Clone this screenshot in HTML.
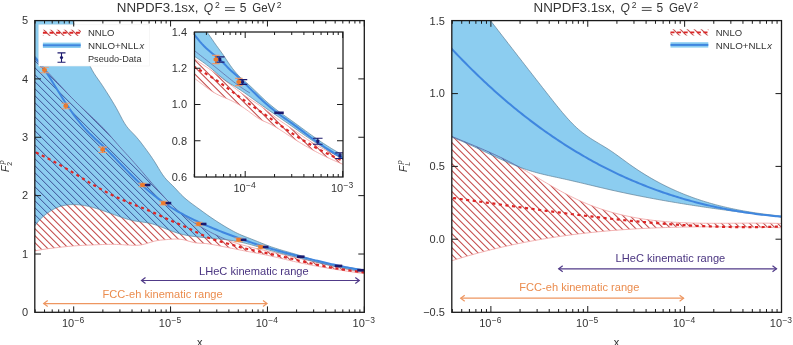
<!DOCTYPE html><html><head><meta charset="utf-8"><style>html,body{margin:0;padding:0;background:#fff;}svg{display:block;font-family:"Liberation Sans",sans-serif;will-change:transform;}</style></head><body>
<svg width="793" height="345" viewBox="0 0 793 345">
<defs>
<pattern id="hatchRed" patternUnits="userSpaceOnUse" width="7" height="7"><path d="M-1,-1 L8,8 M-8,-1 L1,8 M6,-1 L15,8" stroke="#c44c4c" stroke-width="1.15"/></pattern>
<pattern id="hatchNavy" patternUnits="userSpaceOnUse" width="7" height="7"><path d="M-1,-1 L8,8 M-8,-1 L1,8 M6,-1 L15,8" stroke="#3c5096" stroke-width="0.9"/></pattern>
<clipPath id="clipL"><rect x="35.0" y="20.5" width="329.3" height="291.9"/></clipPath>
<clipPath id="clipI"><rect x="194.5" y="32.0" width="148.5" height="145.0"/></clipPath>
<clipPath id="clipR"><rect x="451.9" y="20.8" width="329.6" height="291.2"/></clipPath>
</defs>
<rect width="793" height="345" fill="#fff"/>
<g clip-path="url(#clipL)">
<clipPath id="L_blue"><path d="M20,-30 L50,-30 L52.01,-26.51 L54.03,-22.79 L56.04,-18.84 L58.05,-14.69 L60.06,-10.35 L62.08,-5.82 L64.09,-1.13 L66.1,3.71 L68.11,8.7 L70.13,13.8 L72.14,19.02 L74.15,24.34 L76.16,29.75 L78.18,35.22 L80.19,40.76 L82.2,46.33 L84.21,51.84 L86.23,57.15 L88.24,62.09 L90.25,66.52 L92.26,70.34 L94.28,73.69 L96.29,76.72 L98.3,79.59 L100.31,82.45 L102.33,85.43 L104.34,88.5 L106.35,91.65 L108.36,94.86 L110.38,98.1 L112.39,101.36 L114.4,104.7 L116.42,108.2 L118.43,111.94 L120.44,115.82 L122.45,119.64 L124.47,123.15 L126.48,126.15 L128.49,128.68 L130.5,130.89 L132.52,132.94 L134.53,135 L136.54,137.21 L138.55,139.6 L140.57,142.12 L142.58,144.75 L144.59,147.44 L146.6,150.17 L148.62,152.93 L150.63,155.77 L152.64,158.71 L154.65,161.81 L156.67,165.08 L158.68,168.44 L160.69,171.75 L162.7,174.83 L164.72,177.55 L166.73,179.86 L168.74,181.91 L170.75,183.83 L172.77,185.77 L174.78,187.84 L176.79,190.01 L178.81,192.2 L180.82,194.31 L182.83,196.28 L184.84,198.11 L186.86,199.82 L188.87,201.43 L190.88,202.97 L192.89,204.46 L194.91,205.93 L196.92,207.4 L198.93,208.87 L200.94,210.34 L202.96,211.81 L204.97,213.26 L206.98,214.69 L208.99,216.11 L211.01,217.5 L213.02,218.87 L215.03,220.22 L217.04,221.53 L219.06,222.83 L221.07,224.09 L223.08,225.34 L225.09,226.56 L227.11,227.75 L229.12,228.92 L231.13,230.05 L233.14,231.14 L235.16,232.19 L237.17,233.19 L239.18,234.13 L241.19,235.02 L243.21,235.85 L245.22,236.65 L247.23,237.43 L249.25,238.21 L251.26,238.99 L253.27,239.79 L255.28,240.6 L257.3,241.42 L259.31,242.24 L261.32,243.05 L263.33,243.85 L265.35,244.64 L267.36,245.41 L269.37,246.16 L271.38,246.88 L273.4,247.57 L275.41,248.23 L277.42,248.87 L279.43,249.49 L281.45,250.09 L283.46,250.68 L285.47,251.26 L287.48,251.84 L289.5,252.41 L291.51,252.99 L293.52,253.57 L295.53,254.15 L297.55,254.75 L299.56,255.36 L301.57,255.99 L303.58,256.64 L305.6,257.3 L307.61,257.96 L309.62,258.62 L311.64,259.29 L313.65,259.94 L315.66,260.58 L317.67,261.2 L319.69,261.8 L321.7,262.38 L323.71,262.92 L325.72,263.43 L327.74,263.91 L329.75,264.35 L331.76,264.77 L333.77,265.16 L335.79,265.53 L337.8,265.88 L339.81,266.21 L341.82,266.52 L343.84,266.83 L345.85,267.12 L347.86,267.41 L349.87,267.7 L351.89,267.99 L353.9,268.27 L355.91,268.57 L357.92,268.87 L359.94,269.18 L361.95,269.51 L363.96,269.85 L365.97,270.21 L367.99,270.59 L370,271 L370,271 L370,273 L370,273 L367.99,272.66 L365.98,272.32 L363.97,271.97 L361.95,271.62 L359.94,271.27 L357.93,270.91 L355.92,270.55 L353.91,270.18 L351.9,269.81 L349.89,269.44 L347.87,269.05 L345.86,268.67 L343.85,268.27 L341.84,267.87 L339.83,267.47 L337.82,267.05 L335.8,266.63 L333.79,266.21 L331.78,265.77 L329.77,265.32 L327.76,264.87 L325.75,264.41 L323.74,263.94 L321.72,263.46 L319.71,262.97 L317.7,262.47 L315.69,261.97 L313.68,261.47 L311.67,260.96 L309.66,260.44 L307.64,259.93 L305.63,259.42 L303.62,258.91 L301.61,258.4 L299.6,257.9 L297.59,257.4 L295.57,256.9 L293.56,256.41 L291.55,255.92 L289.54,255.42 L287.53,254.93 L285.52,254.43 L283.51,253.93 L281.49,253.42 L279.48,252.9 L277.47,252.38 L275.46,251.84 L273.45,251.29 L271.44,250.74 L269.43,250.16 L267.41,249.58 L265.4,248.99 L263.39,248.39 L261.38,247.78 L259.37,247.18 L257.36,246.58 L255.34,245.99 L253.33,245.4 L251.32,244.83 L249.31,244.27 L247.3,243.74 L245.29,243.22 L243.28,242.73 L241.26,242.27 L239.25,241.84 L237.24,241.45 L235.23,241.08 L233.22,240.74 L231.21,240.43 L229.2,240.14 L227.18,239.87 L225.17,239.62 L223.16,239.39 L221.15,239.17 L219.14,238.96 L217.13,238.76 L215.11,238.57 L213.1,238.38 L211.09,238.2 L209.08,238.02 L207.07,237.83 L205.06,237.64 L203.05,237.45 L201.03,237.24 L199.02,237.03 L197.01,236.81 L195,236.58 L192.99,236.33 L190.98,236.05 L188.97,235.74 L186.95,235.39 L184.94,235 L182.93,234.56 L180.92,234.06 L178.91,233.5 L176.9,232.88 L174.89,232.21 L172.87,231.5 L170.86,230.76 L168.85,229.99 L166.84,229.21 L164.83,228.42 L162.82,227.62 L160.8,226.84 L158.79,226.07 L156.78,225.34 L154.77,224.66 L152.76,224.05 L150.75,223.51 L148.74,223.06 L146.72,222.69 L144.71,222.38 L142.7,222.11 L140.69,221.85 L138.68,221.58 L136.67,221.28 L134.66,220.94 L132.64,220.52 L130.63,220.05 L128.62,219.52 L126.61,218.94 L124.6,218.32 L122.59,217.67 L120.57,216.99 L118.56,216.28 L116.55,215.56 L114.54,214.83 L112.53,214.1 L110.52,213.37 L108.51,212.63 L106.49,211.91 L104.48,211.2 L102.47,210.5 L100.46,209.81 L98.45,209.15 L96.44,208.52 L94.43,207.92 L92.41,207.36 L90.4,206.83 L88.39,206.35 L86.38,205.92 L84.37,205.55 L82.36,205.23 L80.34,204.96 L78.33,204.77 L76.32,204.63 L74.31,204.57 L72.3,204.57 L70.29,204.66 L68.28,204.82 L66.26,205.07 L64.25,205.4 L62.24,205.84 L60.23,206.38 L58.22,207.06 L56.21,207.88 L54.2,208.86 L52.18,209.99 L50.17,211.25 L48.16,212.61 L46.15,214.07 L44.14,215.65 L42.13,217.41 L40.11,219.42 L38.1,221.69 L36.09,224.13 L34.08,226.66 L32.07,229.2 L30.06,231.67 L28.05,233.98 L26.03,236.05 L24.02,237.8 L22.01,239.14 L20,240 L20,240Z"/></clipPath>
<clipPath id="L_red"><path d="M20,48 L25,48 L27.02,50.23 L29.04,52.44 L31.05,54.63 L33.07,56.79 L35.09,58.94 L37.11,61.08 L39.12,63.2 L41.14,65.32 L43.16,67.43 L45.18,69.54 L47.19,71.66 L49.21,73.77 L51.23,75.89 L53.25,78.03 L55.26,80.17 L57.28,82.33 L59.3,84.51 L61.32,86.7 L63.33,88.89 L65.35,91.07 L67.37,93.23 L69.39,95.36 L71.4,97.45 L73.42,99.49 L75.44,101.49 L77.46,103.46 L79.47,105.4 L81.49,107.32 L83.51,109.23 L85.53,111.12 L87.54,113 L89.56,114.89 L91.58,116.77 L93.6,118.67 L95.61,120.58 L97.63,122.52 L99.65,124.49 L101.67,126.51 L103.68,128.6 L105.7,130.76 L107.72,133.01 L109.74,135.31 L111.75,137.64 L113.77,139.98 L115.79,142.3 L117.81,144.59 L119.82,146.84 L121.84,149.07 L123.86,151.27 L125.88,153.47 L127.89,155.68 L129.91,157.9 L131.93,160.15 L133.95,162.42 L135.96,164.71 L137.98,167.02 L140,169.34 L142.02,171.67 L144.04,174.01 L146.05,176.36 L148.07,178.7 L150.09,181.04 L152.11,183.38 L154.12,185.71 L156.14,188.02 L158.16,190.32 L160.18,192.59 L162.19,194.84 L164.21,197.05 L166.23,199.22 L168.25,201.34 L170.26,203.41 L172.28,205.41 L174.3,207.35 L176.32,209.2 L178.33,210.98 L180.35,212.69 L182.37,214.33 L184.39,215.91 L186.4,217.43 L188.42,218.89 L190.44,220.3 L192.46,221.67 L194.47,222.99 L196.49,224.27 L198.51,225.51 L200.53,226.72 L202.54,227.89 L204.56,229.03 L206.58,230.14 L208.6,231.22 L210.61,232.28 L212.63,233.32 L214.65,234.34 L216.67,235.34 L218.68,236.31 L220.7,237.25 L222.72,238.16 L224.74,239.04 L226.75,239.88 L228.77,240.67 L230.79,241.42 L232.81,242.13 L234.82,242.79 L236.84,243.42 L238.86,244.02 L240.88,244.59 L242.89,245.14 L244.91,245.67 L246.93,246.2 L248.95,246.72 L250.96,247.23 L252.98,247.73 L255,248.23 L257.02,248.72 L259.04,249.2 L261.05,249.68 L263.07,250.15 L265.09,250.61 L267.11,251.07 L269.12,251.52 L271.14,251.97 L273.16,252.42 L275.18,252.87 L277.19,253.32 L279.21,253.77 L281.23,254.22 L283.25,254.67 L285.26,255.13 L287.28,255.59 L289.3,256.05 L291.32,256.52 L293.33,256.99 L295.35,257.46 L297.37,257.94 L299.39,258.42 L301.4,258.9 L303.42,259.38 L305.44,259.85 L307.46,260.33 L309.47,260.81 L311.49,261.28 L313.51,261.75 L315.53,262.22 L317.54,262.68 L319.56,263.15 L321.58,263.61 L323.6,264.07 L325.61,264.53 L327.63,264.99 L329.65,265.45 L331.67,265.91 L333.68,266.37 L335.7,266.84 L337.72,267.3 L339.74,267.76 L341.75,268.22 L343.77,268.68 L345.79,269.14 L347.81,269.59 L349.82,270.04 L351.84,270.48 L353.86,270.91 L355.88,271.34 L357.89,271.75 L359.91,272.16 L361.93,272.55 L363.95,272.94 L365.96,273.3 L367.98,273.66 L370,274 L370,274 L370,274.5 L370,274.5 L367.99,274.21 L365.98,273.92 L363.97,273.64 L361.95,273.35 L359.94,273.06 L357.93,272.77 L355.92,272.48 L353.91,272.18 L351.9,271.89 L349.89,271.59 L347.87,271.3 L345.86,271 L343.85,270.69 L341.84,270.38 L339.83,270.07 L337.82,269.76 L335.8,269.44 L333.79,269.12 L331.78,268.79 L329.77,268.46 L327.76,268.13 L325.75,267.78 L323.74,267.44 L321.72,267.08 L319.71,266.72 L317.7,266.35 L315.69,265.98 L313.68,265.6 L311.67,265.21 L309.66,264.82 L307.64,264.41 L305.63,264 L303.62,263.58 L301.61,263.15 L299.6,262.71 L297.59,262.26 L295.57,261.81 L293.56,261.35 L291.55,260.88 L289.54,260.41 L287.53,259.93 L285.52,259.46 L283.51,258.98 L281.49,258.5 L279.48,258.03 L277.47,257.56 L275.46,257.1 L273.45,256.64 L271.44,256.18 L269.43,255.74 L267.41,255.31 L265.4,254.88 L263.39,254.47 L261.38,254.07 L259.37,253.68 L257.36,253.3 L255.34,252.92 L253.33,252.54 L251.32,252.16 L249.31,251.79 L247.3,251.41 L245.29,251.03 L243.28,250.64 L241.26,250.24 L239.25,249.84 L237.24,249.44 L235.23,249.03 L233.22,248.63 L231.21,248.22 L229.2,247.82 L227.18,247.42 L225.17,247.02 L223.16,246.62 L221.15,246.23 L219.14,245.83 L217.13,245.43 L215.11,245.03 L213.1,244.64 L211.09,244.29 L209.08,243.97 L207.07,243.7 L205.06,243.5 L203.05,243.37 L201.03,243.27 L199.02,243.16 L197.01,242.99 L195,242.72 L192.99,242.31 L190.98,241.79 L188.97,241.22 L186.95,240.63 L184.94,240.09 L182.93,239.64 L180.92,239.32 L178.91,239.13 L176.9,239.05 L174.89,239.05 L172.87,239.13 L170.86,239.25 L168.85,239.4 L166.84,239.57 L164.83,239.74 L162.82,239.91 L160.8,240.11 L158.79,240.36 L156.78,240.68 L154.77,241.09 L152.76,241.61 L150.75,242.21 L148.74,242.86 L146.72,243.5 L144.71,244.1 L142.7,244.6 L140.69,244.96 L138.68,245.2 L136.67,245.32 L134.66,245.35 L132.64,245.32 L130.63,245.23 L128.62,245.12 L126.61,245 L124.6,244.86 L122.59,244.73 L120.57,244.61 L118.56,244.5 L116.55,244.42 L114.54,244.36 L112.53,244.33 L110.52,244.33 L108.51,244.36 L106.49,244.4 L104.48,244.46 L102.47,244.53 L100.46,244.61 L98.45,244.69 L96.44,244.78 L94.43,244.86 L92.41,244.94 L90.4,245.03 L88.39,245.11 L86.38,245.2 L84.37,245.29 L82.36,245.39 L80.34,245.5 L78.33,245.62 L76.32,245.75 L74.31,245.89 L72.3,246.05 L70.29,246.22 L68.28,246.4 L66.26,246.6 L64.25,246.8 L62.24,247.01 L60.23,247.23 L58.22,247.46 L56.21,247.69 L54.2,247.93 L52.18,248.18 L50.17,248.43 L48.16,248.7 L46.15,248.98 L44.14,249.28 L42.13,249.59 L40.11,249.93 L38.1,250.29 L36.09,250.68 L34.08,251.09 L32.07,251.54 L30.06,252.02 L28.05,252.53 L26.03,253.09 L24.02,253.68 L22.01,254.32 L20,255 L20,255Z"/></clipPath>
<g clip-path="url(#L_red)"><path d="M-208.8,48 L17.7,274.5 M-201.8,48 L24.7,274.5 M-194.8,48 L31.7,274.5 M-187.8,48 L38.7,274.5 M-180.8,48 L45.7,274.5 M-173.8,48 L52.7,274.5 M-166.8,48 L59.7,274.5 M-159.8,48 L66.7,274.5 M-152.8,48 L73.7,274.5 M-145.8,48 L80.7,274.5 M-138.8,48 L87.7,274.5 M-131.8,48 L94.7,274.5 M-124.8,48 L101.7,274.5 M-117.8,48 L108.7,274.5 M-110.8,48 L115.7,274.5 M-103.8,48 L122.7,274.5 M-96.8,48 L129.7,274.5 M-89.8,48 L136.7,274.5 M-82.8,48 L143.7,274.5 M-75.8,48 L150.7,274.5 M-68.8,48 L157.7,274.5 M-61.8,48 L164.7,274.5 M-54.8,48 L171.7,274.5 M-47.8,48 L178.7,274.5 M-40.8,48 L185.7,274.5 M-33.8,48 L192.7,274.5 M-26.8,48 L199.7,274.5 M-19.8,48 L206.7,274.5 M-12.8,48 L213.7,274.5 M-5.8,48 L220.7,274.5 M1.2,48 L227.7,274.5 M8.2,48 L234.7,274.5 M15.2,48 L241.7,274.5 M22.2,48 L248.7,274.5 M29.2,48 L255.7,274.5 M36.2,48 L262.7,274.5 M43.2,48 L269.7,274.5 M50.2,48 L276.7,274.5 M57.2,48 L283.7,274.5 M64.2,48 L290.7,274.5 M71.2,48 L297.7,274.5 M78.2,48 L304.7,274.5 M85.2,48 L311.7,274.5 M92.2,48 L318.7,274.5 M99.2,48 L325.7,274.5 M106.2,48 L332.7,274.5 M113.2,48 L339.7,274.5 M120.2,48 L346.7,274.5 M127.2,48 L353.7,274.5 M134.2,48 L360.7,274.5 M141.2,48 L367.7,274.5 M148.2,48 L374.7,274.5 M155.2,48 L381.7,274.5 M162.2,48 L388.7,274.5 M169.2,48 L395.7,274.5 M176.2,48 L402.7,274.5 M183.2,48 L409.7,274.5 M190.2,48 L416.7,274.5 M197.2,48 L423.7,274.5 M204.2,48 L430.7,274.5 M211.2,48 L437.7,274.5 M218.2,48 L444.7,274.5 M225.2,48 L451.7,274.5 M232.2,48 L458.7,274.5 M239.2,48 L465.7,274.5 M246.2,48 L472.7,274.5 M253.2,48 L479.7,274.5 M260.2,48 L486.7,274.5 M267.2,48 L493.7,274.5 M274.2,48 L500.7,274.5 M281.2,48 L507.7,274.5 M288.2,48 L514.7,274.5 M295.2,48 L521.7,274.5 M302.2,48 L528.7,274.5 M309.2,48 L535.7,274.5 M316.2,48 L542.7,274.5 M323.2,48 L549.7,274.5 M330.2,48 L556.7,274.5 M337.2,48 L563.7,274.5 M344.2,48 L570.7,274.5 M351.2,48 L577.7,274.5 M358.2,48 L584.7,274.5 M365.2,48 L591.7,274.5" stroke="#c44c4c" stroke-width="1.05" fill="none"/></g>
<path d="M25,48 L27.02,50.23 L29.04,52.44 L31.05,54.63 L33.07,56.79 L35.09,58.94 L37.11,61.08 L39.12,63.2 L41.14,65.32 L43.16,67.43 L45.18,69.54 L47.19,71.66 L49.21,73.77 L51.23,75.89 L53.25,78.03 L55.26,80.17 L57.28,82.33 L59.3,84.51 L61.32,86.7 L63.33,88.89 L65.35,91.07 L67.37,93.23 L69.39,95.36 L71.4,97.45 L73.42,99.49 L75.44,101.49 L77.46,103.46 L79.47,105.4 L81.49,107.32 L83.51,109.23 L85.53,111.12 L87.54,113 L89.56,114.89 L91.58,116.77 L93.6,118.67 L95.61,120.58 L97.63,122.52 L99.65,124.49 L101.67,126.51 L103.68,128.6 L105.7,130.76 L107.72,133.01 L109.74,135.31 L111.75,137.64 L113.77,139.98 L115.79,142.3 L117.81,144.59 L119.82,146.84 L121.84,149.07 L123.86,151.27 L125.88,153.47 L127.89,155.68 L129.91,157.9 L131.93,160.15 L133.95,162.42 L135.96,164.71 L137.98,167.02 L140,169.34 L142.02,171.67 L144.04,174.01 L146.05,176.36 L148.07,178.7 L150.09,181.04 L152.11,183.38 L154.12,185.71 L156.14,188.02 L158.16,190.32 L160.18,192.59 L162.19,194.84 L164.21,197.05 L166.23,199.22 L168.25,201.34 L170.26,203.41 L172.28,205.41 L174.3,207.35 L176.32,209.2 L178.33,210.98 L180.35,212.69 L182.37,214.33 L184.39,215.91 L186.4,217.43 L188.42,218.89 L190.44,220.3 L192.46,221.67 L194.47,222.99 L196.49,224.27 L198.51,225.51 L200.53,226.72 L202.54,227.89 L204.56,229.03 L206.58,230.14 L208.6,231.22 L210.61,232.28 L212.63,233.32 L214.65,234.34 L216.67,235.34 L218.68,236.31 L220.7,237.25 L222.72,238.16 L224.74,239.04 L226.75,239.88 L228.77,240.67 L230.79,241.42 L232.81,242.13 L234.82,242.79 L236.84,243.42 L238.86,244.02 L240.88,244.59 L242.89,245.14 L244.91,245.67 L246.93,246.2 L248.95,246.72 L250.96,247.23 L252.98,247.73 L255,248.23 L257.02,248.72 L259.04,249.2 L261.05,249.68 L263.07,250.15 L265.09,250.61 L267.11,251.07 L269.12,251.52 L271.14,251.97 L273.16,252.42 L275.18,252.87 L277.19,253.32 L279.21,253.77 L281.23,254.22 L283.25,254.67 L285.26,255.13 L287.28,255.59 L289.3,256.05 L291.32,256.52 L293.33,256.99 L295.35,257.46 L297.37,257.94 L299.39,258.42 L301.4,258.9 L303.42,259.38 L305.44,259.85 L307.46,260.33 L309.47,260.81 L311.49,261.28 L313.51,261.75 L315.53,262.22 L317.54,262.68 L319.56,263.15 L321.58,263.61 L323.6,264.07 L325.61,264.53 L327.63,264.99 L329.65,265.45 L331.67,265.91 L333.68,266.37 L335.7,266.84 L337.72,267.3 L339.74,267.76 L341.75,268.22 L343.77,268.68 L345.79,269.14 L347.81,269.59 L349.82,270.04 L351.84,270.48 L353.86,270.91 L355.88,271.34 L357.89,271.75 L359.91,272.16 L361.93,272.55 L363.95,272.94 L365.96,273.3 L367.98,273.66 L370,274" fill="none" stroke="#f0a0a0" stroke-width="0.8"/>
<path d="M20,255 L22.01,254.32 L24.02,253.68 L26.03,253.09 L28.05,252.53 L30.06,252.02 L32.07,251.54 L34.08,251.09 L36.09,250.68 L38.1,250.29 L40.11,249.93 L42.13,249.59 L44.14,249.28 L46.15,248.98 L48.16,248.7 L50.17,248.43 L52.18,248.18 L54.2,247.93 L56.21,247.69 L58.22,247.46 L60.23,247.23 L62.24,247.01 L64.25,246.8 L66.26,246.6 L68.28,246.4 L70.29,246.22 L72.3,246.05 L74.31,245.89 L76.32,245.75 L78.33,245.62 L80.34,245.5 L82.36,245.39 L84.37,245.29 L86.38,245.2 L88.39,245.11 L90.4,245.03 L92.41,244.94 L94.43,244.86 L96.44,244.78 L98.45,244.69 L100.46,244.61 L102.47,244.53 L104.48,244.46 L106.49,244.4 L108.51,244.36 L110.52,244.33 L112.53,244.33 L114.54,244.36 L116.55,244.42 L118.56,244.5 L120.57,244.61 L122.59,244.73 L124.6,244.86 L126.61,245 L128.62,245.12 L130.63,245.23 L132.64,245.32 L134.66,245.35 L136.67,245.32 L138.68,245.2 L140.69,244.96 L142.7,244.6 L144.71,244.1 L146.72,243.5 L148.74,242.86 L150.75,242.21 L152.76,241.61 L154.77,241.09 L156.78,240.68 L158.79,240.36 L160.8,240.11 L162.82,239.91 L164.83,239.74 L166.84,239.57 L168.85,239.4 L170.86,239.25 L172.87,239.13 L174.89,239.05 L176.9,239.05 L178.91,239.13 L180.92,239.32 L182.93,239.64 L184.94,240.09 L186.95,240.63 L188.97,241.22 L190.98,241.79 L192.99,242.31 L195,242.72 L197.01,242.99 L199.02,243.16 L201.03,243.27 L203.05,243.37 L205.06,243.5 L207.07,243.7 L209.08,243.97 L211.09,244.29 L213.1,244.64 L215.11,245.03 L217.13,245.43 L219.14,245.83 L221.15,246.23 L223.16,246.62 L225.17,247.02 L227.18,247.42 L229.2,247.82 L231.21,248.22 L233.22,248.63 L235.23,249.03 L237.24,249.44 L239.25,249.84 L241.26,250.24 L243.28,250.64 L245.29,251.03 L247.3,251.41 L249.31,251.79 L251.32,252.16 L253.33,252.54 L255.34,252.92 L257.36,253.3 L259.37,253.68 L261.38,254.07 L263.39,254.47 L265.4,254.88 L267.41,255.31 L269.43,255.74 L271.44,256.18 L273.45,256.64 L275.46,257.1 L277.47,257.56 L279.48,258.03 L281.49,258.5 L283.51,258.98 L285.52,259.46 L287.53,259.93 L289.54,260.41 L291.55,260.88 L293.56,261.35 L295.57,261.81 L297.59,262.26 L299.6,262.71 L301.61,263.15 L303.62,263.58 L305.63,264 L307.64,264.41 L309.66,264.82 L311.67,265.21 L313.68,265.6 L315.69,265.98 L317.7,266.35 L319.71,266.72 L321.72,267.08 L323.74,267.44 L325.75,267.78 L327.76,268.13 L329.77,268.46 L331.78,268.79 L333.79,269.12 L335.8,269.44 L337.82,269.76 L339.83,270.07 L341.84,270.38 L343.85,270.69 L345.86,271 L347.87,271.3 L349.89,271.59 L351.9,271.89 L353.91,272.18 L355.92,272.48 L357.93,272.77 L359.94,273.06 L361.95,273.35 L363.97,273.64 L365.98,273.92 L367.99,274.21 L370,274.5" fill="none" stroke="#f0a0a0" stroke-width="0.8"/>
<path d="M20,-30 L50,-30 L52.01,-26.51 L54.03,-22.79 L56.04,-18.84 L58.05,-14.69 L60.06,-10.35 L62.08,-5.82 L64.09,-1.13 L66.1,3.71 L68.11,8.7 L70.13,13.8 L72.14,19.02 L74.15,24.34 L76.16,29.75 L78.18,35.22 L80.19,40.76 L82.2,46.33 L84.21,51.84 L86.23,57.15 L88.24,62.09 L90.25,66.52 L92.26,70.34 L94.28,73.69 L96.29,76.72 L98.3,79.59 L100.31,82.45 L102.33,85.43 L104.34,88.5 L106.35,91.65 L108.36,94.86 L110.38,98.1 L112.39,101.36 L114.4,104.7 L116.42,108.2 L118.43,111.94 L120.44,115.82 L122.45,119.64 L124.47,123.15 L126.48,126.15 L128.49,128.68 L130.5,130.89 L132.52,132.94 L134.53,135 L136.54,137.21 L138.55,139.6 L140.57,142.12 L142.58,144.75 L144.59,147.44 L146.6,150.17 L148.62,152.93 L150.63,155.77 L152.64,158.71 L154.65,161.81 L156.67,165.08 L158.68,168.44 L160.69,171.75 L162.7,174.83 L164.72,177.55 L166.73,179.86 L168.74,181.91 L170.75,183.83 L172.77,185.77 L174.78,187.84 L176.79,190.01 L178.81,192.2 L180.82,194.31 L182.83,196.28 L184.84,198.11 L186.86,199.82 L188.87,201.43 L190.88,202.97 L192.89,204.46 L194.91,205.93 L196.92,207.4 L198.93,208.87 L200.94,210.34 L202.96,211.81 L204.97,213.26 L206.98,214.69 L208.99,216.11 L211.01,217.5 L213.02,218.87 L215.03,220.22 L217.04,221.53 L219.06,222.83 L221.07,224.09 L223.08,225.34 L225.09,226.56 L227.11,227.75 L229.12,228.92 L231.13,230.05 L233.14,231.14 L235.16,232.19 L237.17,233.19 L239.18,234.13 L241.19,235.02 L243.21,235.85 L245.22,236.65 L247.23,237.43 L249.25,238.21 L251.26,238.99 L253.27,239.79 L255.28,240.6 L257.3,241.42 L259.31,242.24 L261.32,243.05 L263.33,243.85 L265.35,244.64 L267.36,245.41 L269.37,246.16 L271.38,246.88 L273.4,247.57 L275.41,248.23 L277.42,248.87 L279.43,249.49 L281.45,250.09 L283.46,250.68 L285.47,251.26 L287.48,251.84 L289.5,252.41 L291.51,252.99 L293.52,253.57 L295.53,254.15 L297.55,254.75 L299.56,255.36 L301.57,255.99 L303.58,256.64 L305.6,257.3 L307.61,257.96 L309.62,258.62 L311.64,259.29 L313.65,259.94 L315.66,260.58 L317.67,261.2 L319.69,261.8 L321.7,262.38 L323.71,262.92 L325.72,263.43 L327.74,263.91 L329.75,264.35 L331.76,264.77 L333.77,265.16 L335.79,265.53 L337.8,265.88 L339.81,266.21 L341.82,266.52 L343.84,266.83 L345.85,267.12 L347.86,267.41 L349.87,267.7 L351.89,267.99 L353.9,268.27 L355.91,268.57 L357.92,268.87 L359.94,269.18 L361.95,269.51 L363.96,269.85 L365.97,270.21 L367.99,270.59 L370,271 L370,271 L370,273 L370,273 L367.99,272.66 L365.98,272.32 L363.97,271.97 L361.95,271.62 L359.94,271.27 L357.93,270.91 L355.92,270.55 L353.91,270.18 L351.9,269.81 L349.89,269.44 L347.87,269.05 L345.86,268.67 L343.85,268.27 L341.84,267.87 L339.83,267.47 L337.82,267.05 L335.8,266.63 L333.79,266.21 L331.78,265.77 L329.77,265.32 L327.76,264.87 L325.75,264.41 L323.74,263.94 L321.72,263.46 L319.71,262.97 L317.7,262.47 L315.69,261.97 L313.68,261.47 L311.67,260.96 L309.66,260.44 L307.64,259.93 L305.63,259.42 L303.62,258.91 L301.61,258.4 L299.6,257.9 L297.59,257.4 L295.57,256.9 L293.56,256.41 L291.55,255.92 L289.54,255.42 L287.53,254.93 L285.52,254.43 L283.51,253.93 L281.49,253.42 L279.48,252.9 L277.47,252.38 L275.46,251.84 L273.45,251.29 L271.44,250.74 L269.43,250.16 L267.41,249.58 L265.4,248.99 L263.39,248.39 L261.38,247.78 L259.37,247.18 L257.36,246.58 L255.34,245.99 L253.33,245.4 L251.32,244.83 L249.31,244.27 L247.3,243.74 L245.29,243.22 L243.28,242.73 L241.26,242.27 L239.25,241.84 L237.24,241.45 L235.23,241.08 L233.22,240.74 L231.21,240.43 L229.2,240.14 L227.18,239.87 L225.17,239.62 L223.16,239.39 L221.15,239.17 L219.14,238.96 L217.13,238.76 L215.11,238.57 L213.1,238.38 L211.09,238.2 L209.08,238.02 L207.07,237.83 L205.06,237.64 L203.05,237.45 L201.03,237.24 L199.02,237.03 L197.01,236.81 L195,236.58 L192.99,236.33 L190.98,236.05 L188.97,235.74 L186.95,235.39 L184.94,235 L182.93,234.56 L180.92,234.06 L178.91,233.5 L176.9,232.88 L174.89,232.21 L172.87,231.5 L170.86,230.76 L168.85,229.99 L166.84,229.21 L164.83,228.42 L162.82,227.62 L160.8,226.84 L158.79,226.07 L156.78,225.34 L154.77,224.66 L152.76,224.05 L150.75,223.51 L148.74,223.06 L146.72,222.69 L144.71,222.38 L142.7,222.11 L140.69,221.85 L138.68,221.58 L136.67,221.28 L134.66,220.94 L132.64,220.52 L130.63,220.05 L128.62,219.52 L126.61,218.94 L124.6,218.32 L122.59,217.67 L120.57,216.99 L118.56,216.28 L116.55,215.56 L114.54,214.83 L112.53,214.1 L110.52,213.37 L108.51,212.63 L106.49,211.91 L104.48,211.2 L102.47,210.5 L100.46,209.81 L98.45,209.15 L96.44,208.52 L94.43,207.92 L92.41,207.36 L90.4,206.83 L88.39,206.35 L86.38,205.92 L84.37,205.55 L82.36,205.23 L80.34,204.96 L78.33,204.77 L76.32,204.63 L74.31,204.57 L72.3,204.57 L70.29,204.66 L68.28,204.82 L66.26,205.07 L64.25,205.4 L62.24,205.84 L60.23,206.38 L58.22,207.06 L56.21,207.88 L54.2,208.86 L52.18,209.99 L50.17,211.25 L48.16,212.61 L46.15,214.07 L44.14,215.65 L42.13,217.41 L40.11,219.42 L38.1,221.69 L36.09,224.13 L34.08,226.66 L32.07,229.2 L30.06,231.67 L28.05,233.98 L26.03,236.05 L24.02,237.8 L22.01,239.14 L20,240 L20,240Z" fill="#8ccdf0"/>
<g clip-path="url(#L_blue)"><g clip-path="url(#L_red)"><path d="M-208.8,48 L17.7,274.5 M-201.8,48 L24.7,274.5 M-194.8,48 L31.7,274.5 M-187.8,48 L38.7,274.5 M-180.8,48 L45.7,274.5 M-173.8,48 L52.7,274.5 M-166.8,48 L59.7,274.5 M-159.8,48 L66.7,274.5 M-152.8,48 L73.7,274.5 M-145.8,48 L80.7,274.5 M-138.8,48 L87.7,274.5 M-131.8,48 L94.7,274.5 M-124.8,48 L101.7,274.5 M-117.8,48 L108.7,274.5 M-110.8,48 L115.7,274.5 M-103.8,48 L122.7,274.5 M-96.8,48 L129.7,274.5 M-89.8,48 L136.7,274.5 M-82.8,48 L143.7,274.5 M-75.8,48 L150.7,274.5 M-68.8,48 L157.7,274.5 M-61.8,48 L164.7,274.5 M-54.8,48 L171.7,274.5 M-47.8,48 L178.7,274.5 M-40.8,48 L185.7,274.5 M-33.8,48 L192.7,274.5 M-26.8,48 L199.7,274.5 M-19.8,48 L206.7,274.5 M-12.8,48 L213.7,274.5 M-5.8,48 L220.7,274.5 M1.2,48 L227.7,274.5 M8.2,48 L234.7,274.5 M15.2,48 L241.7,274.5 M22.2,48 L248.7,274.5 M29.2,48 L255.7,274.5 M36.2,48 L262.7,274.5 M43.2,48 L269.7,274.5 M50.2,48 L276.7,274.5 M57.2,48 L283.7,274.5 M64.2,48 L290.7,274.5 M71.2,48 L297.7,274.5 M78.2,48 L304.7,274.5 M85.2,48 L311.7,274.5 M92.2,48 L318.7,274.5 M99.2,48 L325.7,274.5 M106.2,48 L332.7,274.5 M113.2,48 L339.7,274.5 M120.2,48 L346.7,274.5 M127.2,48 L353.7,274.5 M134.2,48 L360.7,274.5 M141.2,48 L367.7,274.5 M148.2,48 L374.7,274.5 M155.2,48 L381.7,274.5 M162.2,48 L388.7,274.5 M169.2,48 L395.7,274.5 M176.2,48 L402.7,274.5 M183.2,48 L409.7,274.5 M190.2,48 L416.7,274.5 M197.2,48 L423.7,274.5 M204.2,48 L430.7,274.5 M211.2,48 L437.7,274.5 M218.2,48 L444.7,274.5 M225.2,48 L451.7,274.5 M232.2,48 L458.7,274.5 M239.2,48 L465.7,274.5 M246.2,48 L472.7,274.5 M253.2,48 L479.7,274.5 M260.2,48 L486.7,274.5 M267.2,48 L493.7,274.5 M274.2,48 L500.7,274.5 M281.2,48 L507.7,274.5 M288.2,48 L514.7,274.5 M295.2,48 L521.7,274.5 M302.2,48 L528.7,274.5 M309.2,48 L535.7,274.5 M316.2,48 L542.7,274.5 M323.2,48 L549.7,274.5 M330.2,48 L556.7,274.5 M337.2,48 L563.7,274.5 M344.2,48 L570.7,274.5 M351.2,48 L577.7,274.5 M358.2,48 L584.7,274.5 M365.2,48 L591.7,274.5" stroke="#3c5096" stroke-width="1.0" fill="none"/></g></g>
<path d="M50,-30 L52.01,-26.51 L54.03,-22.79 L56.04,-18.84 L58.05,-14.69 L60.06,-10.35 L62.08,-5.82 L64.09,-1.13 L66.1,3.71 L68.11,8.7 L70.13,13.8 L72.14,19.02 L74.15,24.34 L76.16,29.75 L78.18,35.22 L80.19,40.76 L82.2,46.33 L84.21,51.84 L86.23,57.15 L88.24,62.09 L90.25,66.52 L92.26,70.34 L94.28,73.69 L96.29,76.72 L98.3,79.59 L100.31,82.45 L102.33,85.43 L104.34,88.5 L106.35,91.65 L108.36,94.86 L110.38,98.1 L112.39,101.36 L114.4,104.7 L116.42,108.2 L118.43,111.94 L120.44,115.82 L122.45,119.64 L124.47,123.15 L126.48,126.15 L128.49,128.68 L130.5,130.89 L132.52,132.94 L134.53,135 L136.54,137.21 L138.55,139.6 L140.57,142.12 L142.58,144.75 L144.59,147.44 L146.6,150.17 L148.62,152.93 L150.63,155.77 L152.64,158.71 L154.65,161.81 L156.67,165.08 L158.68,168.44 L160.69,171.75 L162.7,174.83 L164.72,177.55 L166.73,179.86 L168.74,181.91 L170.75,183.83 L172.77,185.77 L174.78,187.84 L176.79,190.01 L178.81,192.2 L180.82,194.31 L182.83,196.28 L184.84,198.11 L186.86,199.82 L188.87,201.43 L190.88,202.97 L192.89,204.46 L194.91,205.93 L196.92,207.4 L198.93,208.87 L200.94,210.34 L202.96,211.81 L204.97,213.26 L206.98,214.69 L208.99,216.11 L211.01,217.5 L213.02,218.87 L215.03,220.22 L217.04,221.53 L219.06,222.83 L221.07,224.09 L223.08,225.34 L225.09,226.56 L227.11,227.75 L229.12,228.92 L231.13,230.05 L233.14,231.14 L235.16,232.19 L237.17,233.19 L239.18,234.13 L241.19,235.02 L243.21,235.85 L245.22,236.65 L247.23,237.43 L249.25,238.21 L251.26,238.99 L253.27,239.79 L255.28,240.6 L257.3,241.42 L259.31,242.24 L261.32,243.05 L263.33,243.85 L265.35,244.64 L267.36,245.41 L269.37,246.16 L271.38,246.88 L273.4,247.57 L275.41,248.23 L277.42,248.87 L279.43,249.49 L281.45,250.09 L283.46,250.68 L285.47,251.26 L287.48,251.84 L289.5,252.41 L291.51,252.99 L293.52,253.57 L295.53,254.15 L297.55,254.75 L299.56,255.36 L301.57,255.99 L303.58,256.64 L305.6,257.3 L307.61,257.96 L309.62,258.62 L311.64,259.29 L313.65,259.94 L315.66,260.58 L317.67,261.2 L319.69,261.8 L321.7,262.38 L323.71,262.92 L325.72,263.43 L327.74,263.91 L329.75,264.35 L331.76,264.77 L333.77,265.16 L335.79,265.53 L337.8,265.88 L339.81,266.21 L341.82,266.52 L343.84,266.83 L345.85,267.12 L347.86,267.41 L349.87,267.7 L351.89,267.99 L353.9,268.27 L355.91,268.57 L357.92,268.87 L359.94,269.18 L361.95,269.51 L363.96,269.85 L365.97,270.21 L367.99,270.59 L370,271" fill="none" stroke="#5f7f96" stroke-width="0.7"/>
<path d="M20,240 L22.01,239.14 L24.02,237.8 L26.03,236.05 L28.05,233.98 L30.06,231.67 L32.07,229.2 L34.08,226.66 L36.09,224.13 L38.1,221.69 L40.11,219.42 L42.13,217.41 L44.14,215.65 L46.15,214.07 L48.16,212.61 L50.17,211.25 L52.18,209.99 L54.2,208.86 L56.21,207.88 L58.22,207.06 L60.23,206.38 L62.24,205.84 L64.25,205.4 L66.26,205.07 L68.28,204.82 L70.29,204.66 L72.3,204.57 L74.31,204.57 L76.32,204.63 L78.33,204.77 L80.34,204.96 L82.36,205.23 L84.37,205.55 L86.38,205.92 L88.39,206.35 L90.4,206.83 L92.41,207.36 L94.43,207.92 L96.44,208.52 L98.45,209.15 L100.46,209.81 L102.47,210.5 L104.48,211.2 L106.49,211.91 L108.51,212.63 L110.52,213.37 L112.53,214.1 L114.54,214.83 L116.55,215.56 L118.56,216.28 L120.57,216.99 L122.59,217.67 L124.6,218.32 L126.61,218.94 L128.62,219.52 L130.63,220.05 L132.64,220.52 L134.66,220.94 L136.67,221.28 L138.68,221.58 L140.69,221.85 L142.7,222.11 L144.71,222.38 L146.72,222.69 L148.74,223.06 L150.75,223.51 L152.76,224.05 L154.77,224.66 L156.78,225.34 L158.79,226.07 L160.8,226.84 L162.82,227.62 L164.83,228.42 L166.84,229.21 L168.85,229.99 L170.86,230.76 L172.87,231.5 L174.89,232.21 L176.9,232.88 L178.91,233.5 L180.92,234.06 L182.93,234.56 L184.94,235 L186.95,235.39 L188.97,235.74 L190.98,236.05 L192.99,236.33 L195,236.58 L197.01,236.81 L199.02,237.03 L201.03,237.24 L203.05,237.45 L205.06,237.64 L207.07,237.83 L209.08,238.02 L211.09,238.2 L213.1,238.38 L215.11,238.57 L217.13,238.76 L219.14,238.96 L221.15,239.17 L223.16,239.39 L225.17,239.62 L227.18,239.87 L229.2,240.14 L231.21,240.43 L233.22,240.74 L235.23,241.08 L237.24,241.45 L239.25,241.84 L241.26,242.27 L243.28,242.73 L245.29,243.22 L247.3,243.74 L249.31,244.27 L251.32,244.83 L253.33,245.4 L255.34,245.99 L257.36,246.58 L259.37,247.18 L261.38,247.78 L263.39,248.39 L265.4,248.99 L267.41,249.58 L269.43,250.16 L271.44,250.74 L273.45,251.29 L275.46,251.84 L277.47,252.38 L279.48,252.9 L281.49,253.42 L283.51,253.93 L285.52,254.43 L287.53,254.93 L289.54,255.42 L291.55,255.92 L293.56,256.41 L295.57,256.9 L297.59,257.4 L299.6,257.9 L301.61,258.4 L303.62,258.91 L305.63,259.42 L307.64,259.93 L309.66,260.44 L311.67,260.96 L313.68,261.47 L315.69,261.97 L317.7,262.47 L319.71,262.97 L321.72,263.46 L323.74,263.94 L325.75,264.41 L327.76,264.87 L329.77,265.32 L331.78,265.77 L333.79,266.21 L335.8,266.63 L337.82,267.05 L339.83,267.47 L341.84,267.87 L343.85,268.27 L345.86,268.67 L347.87,269.05 L349.89,269.44 L351.9,269.81 L353.91,270.18 L355.92,270.55 L357.93,270.91 L359.94,271.27 L361.95,271.62 L363.97,271.97 L365.98,272.32 L367.99,272.66 L370,273" fill="none" stroke="#5f7f96" stroke-width="0.7"/>
<path d="M25,48 L27.02,50.23 L29.04,52.44 L31.05,54.63 L33.07,56.79 L35.09,58.94 L37.11,61.08 L39.12,63.2 L41.14,65.32 L43.16,67.43 L45.18,69.54 L47.19,71.66 L49.21,73.77 L51.23,75.89 L53.25,78.03 L55.26,80.17 L57.28,82.33 L59.3,84.51 L61.32,86.7 L63.33,88.89 L65.35,91.07 L67.37,93.23 L69.39,95.36 L71.4,97.45 L73.42,99.49 L75.44,101.49 L77.46,103.46 L79.47,105.4 L81.49,107.32 L83.51,109.23 L85.53,111.12 L87.54,113 L89.56,114.89 L91.58,116.77 L93.6,118.67 L95.61,120.58 L97.63,122.52 L99.65,124.49 L101.67,126.51 L103.68,128.6 L105.7,130.76 L107.72,133.01 L109.74,135.31 L111.75,137.64 L113.77,139.98 L115.79,142.3 L117.81,144.59 L119.82,146.84 L121.84,149.07 L123.86,151.27 L125.88,153.47 L127.89,155.68 L129.91,157.9 L131.93,160.15 L133.95,162.42 L135.96,164.71 L137.98,167.02 L140,169.34 L142.02,171.67 L144.04,174.01 L146.05,176.36 L148.07,178.7 L150.09,181.04 L152.11,183.38 L154.12,185.71 L156.14,188.02 L158.16,190.32 L160.18,192.59 L162.19,194.84 L164.21,197.05 L166.23,199.22 L168.25,201.34 L170.26,203.41 L172.28,205.41 L174.3,207.35 L176.32,209.2 L178.33,210.98 L180.35,212.69 L182.37,214.33 L184.39,215.91 L186.4,217.43 L188.42,218.89 L190.44,220.3 L192.46,221.67 L194.47,222.99 L196.49,224.27 L198.51,225.51 L200.53,226.72 L202.54,227.89 L204.56,229.03 L206.58,230.14 L208.6,231.22 L210.61,232.28 L212.63,233.32 L214.65,234.34 L216.67,235.34 L218.68,236.31 L220.7,237.25 L222.72,238.16 L224.74,239.04 L226.75,239.88 L228.77,240.67 L230.79,241.42 L232.81,242.13 L234.82,242.79 L236.84,243.42 L238.86,244.02 L240.88,244.59 L242.89,245.14 L244.91,245.67 L246.93,246.2 L248.95,246.72 L250.96,247.23 L252.98,247.73 L255,248.23 L257.02,248.72 L259.04,249.2 L261.05,249.68 L263.07,250.15 L265.09,250.61 L267.11,251.07 L269.12,251.52 L271.14,251.97 L273.16,252.42 L275.18,252.87 L277.19,253.32 L279.21,253.77 L281.23,254.22 L283.25,254.67 L285.26,255.13 L287.28,255.59 L289.3,256.05 L291.32,256.52 L293.33,256.99 L295.35,257.46 L297.37,257.94 L299.39,258.42 L301.4,258.9 L303.42,259.38 L305.44,259.85 L307.46,260.33 L309.47,260.81 L311.49,261.28 L313.51,261.75 L315.53,262.22 L317.54,262.68 L319.56,263.15 L321.58,263.61 L323.6,264.07 L325.61,264.53 L327.63,264.99 L329.65,265.45 L331.67,265.91 L333.68,266.37 L335.7,266.84 L337.72,267.3 L339.74,267.76 L341.75,268.22 L343.77,268.68 L345.79,269.14 L347.81,269.59 L349.82,270.04 L351.84,270.48 L353.86,270.91 L355.88,271.34 L357.89,271.75 L359.91,272.16 L361.93,272.55 L363.95,272.94 L365.96,273.3 L367.98,273.66 L370,274" fill="none" stroke="#5a62a0" stroke-width="0.8" clip-path="url(#L_blue)"/>
<path d="M20,255 L22.01,254.32 L24.02,253.68 L26.03,253.09 L28.05,252.53 L30.06,252.02 L32.07,251.54 L34.08,251.09 L36.09,250.68 L38.1,250.29 L40.11,249.93 L42.13,249.59 L44.14,249.28 L46.15,248.98 L48.16,248.7 L50.17,248.43 L52.18,248.18 L54.2,247.93 L56.21,247.69 L58.22,247.46 L60.23,247.23 L62.24,247.01 L64.25,246.8 L66.26,246.6 L68.28,246.4 L70.29,246.22 L72.3,246.05 L74.31,245.89 L76.32,245.75 L78.33,245.62 L80.34,245.5 L82.36,245.39 L84.37,245.29 L86.38,245.2 L88.39,245.11 L90.4,245.03 L92.41,244.94 L94.43,244.86 L96.44,244.78 L98.45,244.69 L100.46,244.61 L102.47,244.53 L104.48,244.46 L106.49,244.4 L108.51,244.36 L110.52,244.33 L112.53,244.33 L114.54,244.36 L116.55,244.42 L118.56,244.5 L120.57,244.61 L122.59,244.73 L124.6,244.86 L126.61,245 L128.62,245.12 L130.63,245.23 L132.64,245.32 L134.66,245.35 L136.67,245.32 L138.68,245.2 L140.69,244.96 L142.7,244.6 L144.71,244.1 L146.72,243.5 L148.74,242.86 L150.75,242.21 L152.76,241.61 L154.77,241.09 L156.78,240.68 L158.79,240.36 L160.8,240.11 L162.82,239.91 L164.83,239.74 L166.84,239.57 L168.85,239.4 L170.86,239.25 L172.87,239.13 L174.89,239.05 L176.9,239.05 L178.91,239.13 L180.92,239.32 L182.93,239.64 L184.94,240.09 L186.95,240.63 L188.97,241.22 L190.98,241.79 L192.99,242.31 L195,242.72 L197.01,242.99 L199.02,243.16 L201.03,243.27 L203.05,243.37 L205.06,243.5 L207.07,243.7 L209.08,243.97 L211.09,244.29 L213.1,244.64 L215.11,245.03 L217.13,245.43 L219.14,245.83 L221.15,246.23 L223.16,246.62 L225.17,247.02 L227.18,247.42 L229.2,247.82 L231.21,248.22 L233.22,248.63 L235.23,249.03 L237.24,249.44 L239.25,249.84 L241.26,250.24 L243.28,250.64 L245.29,251.03 L247.3,251.41 L249.31,251.79 L251.32,252.16 L253.33,252.54 L255.34,252.92 L257.36,253.3 L259.37,253.68 L261.38,254.07 L263.39,254.47 L265.4,254.88 L267.41,255.31 L269.43,255.74 L271.44,256.18 L273.45,256.64 L275.46,257.1 L277.47,257.56 L279.48,258.03 L281.49,258.5 L283.51,258.98 L285.52,259.46 L287.53,259.93 L289.54,260.41 L291.55,260.88 L293.56,261.35 L295.57,261.81 L297.59,262.26 L299.6,262.71 L301.61,263.15 L303.62,263.58 L305.63,264 L307.64,264.41 L309.66,264.82 L311.67,265.21 L313.68,265.6 L315.69,265.98 L317.7,266.35 L319.71,266.72 L321.72,267.08 L323.74,267.44 L325.75,267.78 L327.76,268.13 L329.77,268.46 L331.78,268.79 L333.79,269.12 L335.8,269.44 L337.82,269.76 L339.83,270.07 L341.84,270.38 L343.85,270.69 L345.86,271 L347.87,271.3 L349.89,271.59 L351.9,271.89 L353.91,272.18 L355.92,272.48 L357.93,272.77 L359.94,273.06 L361.95,273.35 L363.97,273.64 L365.98,273.92 L367.99,274.21 L370,274.5" fill="none" stroke="#5a62a0" stroke-width="0.8" clip-path="url(#L_blue)"/>
<path d="M25,50 L27.02,50.91 L29.04,52.14 L31.05,53.66 L33.07,55.44 L35.09,57.48 L37.11,59.73 L39.12,62.19 L41.14,64.83 L43.16,67.62 L45.18,70.55 L47.19,73.59 L49.21,76.72 L51.23,79.92 L53.25,83.16 L55.26,86.43 L57.28,89.7 L59.3,92.95 L61.32,96.19 L63.33,99.38 L65.35,102.52 L67.37,105.6 L69.39,108.6 L71.4,111.52 L73.42,114.33 L75.44,117.05 L77.46,119.67 L79.47,122.2 L81.49,124.62 L83.51,126.95 L85.53,129.17 L87.54,131.3 L89.56,133.35 L91.58,135.33 L93.6,137.26 L95.61,139.16 L97.63,141.03 L99.65,142.9 L101.67,144.79 L103.68,146.7 L105.7,148.65 L107.72,150.64 L109.74,152.66 L111.75,154.71 L113.77,156.79 L115.79,158.88 L117.81,160.98 L119.82,163.08 L121.84,165.19 L123.86,167.28 L125.88,169.36 L127.89,171.42 L129.91,173.46 L131.93,175.48 L133.95,177.46 L135.96,179.42 L137.98,181.35 L140,183.25 L142.02,185.11 L144.04,186.93 L146.05,188.72 L148.07,190.47 L150.09,192.17 L152.11,193.84 L154.12,195.47 L156.14,197.05 L158.16,198.6 L160.18,200.1 L162.19,201.56 L164.21,202.98 L166.23,204.36 L168.25,205.69 L170.26,206.99 L172.28,208.24 L174.3,209.45 L176.32,210.63 L178.33,211.77 L180.35,212.89 L182.37,213.97 L184.39,215.03 L186.4,216.06 L188.42,217.08 L190.44,218.07 L192.46,219.06 L194.47,220.03 L196.49,220.98 L198.51,221.92 L200.53,222.85 L202.54,223.77 L204.56,224.67 L206.58,225.56 L208.6,226.43 L210.61,227.29 L212.63,228.14 L214.65,228.98 L216.67,229.8 L218.68,230.61 L220.7,231.41 L222.72,232.2 L224.74,232.98 L226.75,233.75 L228.77,234.51 L230.79,235.26 L232.81,236 L234.82,236.74 L236.84,237.47 L238.86,238.19 L240.88,238.91 L242.89,239.62 L244.91,240.33 L246.93,241.03 L248.95,241.72 L250.96,242.41 L252.98,243.08 L255,243.75 L257.02,244.41 L259.04,245.06 L261.05,245.7 L263.07,246.33 L265.09,246.95 L267.11,247.56 L269.12,248.16 L271.14,248.76 L273.16,249.34 L275.18,249.91 L277.19,250.48 L279.21,251.04 L281.23,251.6 L283.25,252.14 L285.26,252.68 L287.28,253.22 L289.3,253.75 L291.32,254.28 L293.33,254.8 L295.35,255.32 L297.37,255.83 L299.39,256.34 L301.4,256.85 L303.42,257.36 L305.44,257.87 L307.46,258.37 L309.47,258.87 L311.49,259.37 L313.51,259.86 L315.53,260.35 L317.54,260.83 L319.56,261.31 L321.58,261.79 L323.6,262.27 L325.61,262.73 L327.63,263.2 L329.65,263.66 L331.67,264.11 L333.68,264.56 L335.7,265 L337.72,265.44 L339.74,265.87 L341.75,266.3 L343.77,266.72 L345.79,267.13 L347.81,267.53 L349.82,267.93 L351.84,268.32 L353.86,268.71 L355.88,269.09 L357.89,269.46 L359.91,269.82 L361.93,270.17 L363.95,270.52 L365.96,270.85 L367.98,271.18 L370,271.5" fill="none" stroke="#3f86df" stroke-width="2"/>
<path d="M30,149.5 L32.01,150.46 L34.02,151.43 L36.04,152.41 L38.05,153.4 L40.06,154.41 L42.07,155.43 L44.08,156.46 L46.09,157.5 L48.11,158.56 L50.12,159.62 L52.13,160.7 L54.14,161.8 L56.15,162.9 L58.17,164.02 L60.18,165.14 L62.19,166.28 L64.2,167.43 L66.21,168.6 L68.22,169.77 L70.24,170.96 L72.25,172.16 L74.26,173.36 L76.27,174.57 L78.28,175.79 L80.3,177.01 L82.31,178.23 L84.32,179.45 L86.33,180.67 L88.34,181.88 L90.36,183.08 L92.37,184.27 L94.38,185.45 L96.39,186.61 L98.4,187.76 L100.41,188.89 L102.43,190 L104.44,191.08 L106.45,192.15 L108.46,193.19 L110.47,194.22 L112.49,195.22 L114.5,196.2 L116.51,197.16 L118.52,198.1 L120.53,199.02 L122.54,199.92 L124.56,200.81 L126.57,201.67 L128.58,202.51 L130.59,203.34 L132.6,204.15 L134.62,204.95 L136.63,205.74 L138.64,206.52 L140.65,207.31 L142.66,208.1 L144.67,208.89 L146.69,209.7 L148.7,210.53 L150.71,211.37 L152.72,212.24 L154.73,213.13 L156.75,214.04 L158.76,214.95 L160.77,215.88 L162.78,216.81 L164.79,217.74 L166.8,218.67 L168.82,219.59 L170.83,220.5 L172.84,221.4 L174.85,222.29 L176.86,223.18 L178.88,224.06 L180.89,224.95 L182.9,225.84 L184.91,226.73 L186.92,227.65 L188.93,228.57 L190.95,229.52 L192.96,230.49 L194.97,231.47 L196.98,232.46 L198.99,233.44 L201.01,234.41 L203.02,235.35 L205.03,236.25 L207.04,237.11 L209.05,237.91 L211.07,238.66 L213.08,239.36 L215.09,240.02 L217.1,240.64 L219.11,241.23 L221.12,241.8 L223.14,242.36 L225.15,242.9 L227.16,243.44 L229.17,243.99 L231.18,244.55 L233.2,245.13 L235.21,245.71 L237.22,246.3 L239.23,246.88 L241.24,247.45 L243.25,248 L245.27,248.53 L247.28,249.03 L249.29,249.5 L251.3,249.96 L253.31,250.39 L255.33,250.82 L257.34,251.24 L259.35,251.65 L261.36,252.06 L263.37,252.47 L265.38,252.88 L267.4,253.3 L269.41,253.73 L271.42,254.17 L273.43,254.61 L275.44,255.06 L277.46,255.51 L279.47,255.97 L281.48,256.43 L283.49,256.89 L285.5,257.36 L287.51,257.83 L289.53,258.31 L291.54,258.79 L293.55,259.26 L295.56,259.74 L297.57,260.22 L299.59,260.7 L301.6,261.18 L303.61,261.66 L305.62,262.13 L307.63,262.61 L309.64,263.07 L311.66,263.54 L313.67,263.99 L315.68,264.44 L317.69,264.88 L319.7,265.31 L321.72,265.74 L323.73,266.15 L325.74,266.54 L327.75,266.93 L329.76,267.3 L331.78,267.67 L333.79,268.02 L335.8,268.36 L337.81,268.69 L339.82,269.01 L341.83,269.32 L343.85,269.63 L345.86,269.93 L347.87,270.21 L349.88,270.49 L351.89,270.77 L353.91,271.04 L355.92,271.3 L357.93,271.56 L359.94,271.81 L361.95,272.05 L363.96,272.29 L365.98,272.53 L367.99,272.77 L370,273" fill="none" stroke="#dc2626" stroke-width="2.2" stroke-dasharray="3.1 3.5"/>
</g>
<g clip-path="url(#clipL)">
<rect x="142.95" y="183.7" width="7.5" height="2.6" fill="#1c1a6e"/>
<rect x="163.75" y="201.8" width="7.5" height="2.6" fill="#1c1a6e"/>
<rect x="198.95" y="222.7" width="7.5" height="2.6" fill="#1c1a6e"/>
<rect x="238.95" y="238.5" width="7.5" height="2.6" fill="#1c1a6e"/>
<rect x="260.95" y="245.7" width="7.5" height="2.6" fill="#1c1a6e"/>
<rect x="297.05" y="255.4" width="7.5" height="2.6" fill="#1c1a6e"/>
<rect x="334.75" y="264.6" width="7.5" height="2.6" fill="#1c1a6e"/>
<rect x="357.25" y="268.9" width="7.5" height="2.6" fill="#1c1a6e"/>
<path d="M40.2,67.3 h8.6 M40.2,72.7 h8.6" stroke="#e89a70" stroke-width="1.1" fill="none"/><rect x="42.2" y="68.3" width="4.6" height="3.4" rx="1" fill="#f07a2a"/><path d="M44.5,67.3 V72.7" stroke="#f07a2a" stroke-width="1.2"/>
<path d="M61.5,103.3 h8.6 M61.5,108.7 h8.6" stroke="#e89a70" stroke-width="1.1" fill="none"/><rect x="63.5" y="104.3" width="4.6" height="3.4" rx="1" fill="#f07a2a"/><path d="M65.8,103.3 V108.7" stroke="#f07a2a" stroke-width="1.2"/>
<path d="M98.3,147.1 h8.6 M98.3,152.5 h8.6" stroke="#e89a70" stroke-width="1.1" fill="none"/><rect x="100.3" y="148.1" width="4.6" height="3.4" rx="1" fill="#f07a2a"/><path d="M102.6,147.1 V152.5" stroke="#f07a2a" stroke-width="1.2"/>
<path d="M138.5,183.2 h8 M138.5,186.8 h8" stroke="#e89a70" stroke-width="1.1" fill="none"/><rect x="140.2" y="183.3" width="4.6" height="3.4" rx="1" fill="#f07a2a"/><path d="M142.5,183.2 V186.8" stroke="#f07a2a" stroke-width="1.2"/>
<path d="M159.3,201.3 h8 M159.3,204.9 h8" stroke="#e89a70" stroke-width="1.1" fill="none"/><rect x="161" y="201.4" width="4.6" height="3.4" rx="1" fill="#f07a2a"/><path d="M163.3,201.3 V204.9" stroke="#f07a2a" stroke-width="1.2"/>
<path d="M194.5,222.2 h8 M194.5,225.8 h8" stroke="#e89a70" stroke-width="1.1" fill="none"/><rect x="196.2" y="222.3" width="4.6" height="3.4" rx="1" fill="#f07a2a"/><path d="M198.5,222.2 V225.8" stroke="#f07a2a" stroke-width="1.2"/>
<path d="M234.5,238 h8 M234.5,241.6 h8" stroke="#e89a70" stroke-width="1.1" fill="none"/><rect x="236.2" y="238.1" width="4.6" height="3.4" rx="1" fill="#f07a2a"/><path d="M238.5,238 V241.6" stroke="#f07a2a" stroke-width="1.2"/>
<path d="M256.5,245.2 h8 M256.5,248.8 h8" stroke="#e89a70" stroke-width="1.1" fill="none"/><rect x="258.2" y="245.3" width="4.6" height="3.4" rx="1" fill="#f07a2a"/><path d="M260.5,245.2 V248.8" stroke="#f07a2a" stroke-width="1.2"/>
</g>
<path d="M141.5,280.5 H359.3" stroke="#503a88" stroke-width="1.2" fill="none"/><path d="M145.5,277.5 L141.5,280.5 L145.5,283.5" stroke="#503a88" stroke-width="1.2" fill="none"/><path d="M355.3,277.5 L359.3,280.5 L355.3,283.5" stroke="#503a88" stroke-width="1.2" fill="none"/>
<path d="M43.7,303.6 H267" stroke="#ee9660" stroke-width="1.2" fill="none"/><path d="M47.7,300.6 L43.7,303.6 L47.7,306.6" stroke="#ee9660" stroke-width="1.2" fill="none"/><path d="M263,300.6 L267,303.6 L263,306.6" stroke="#ee9660" stroke-width="1.2" fill="none"/>
<text x="199.0" y="274.9" font-size="10.3" fill="#4a3480" textLength="109.7" lengthAdjust="spacingAndGlyphs">LHeC kinematic range</text>
<text x="102.6" y="298" font-size="10.3" fill="#eb8c4e" textLength="120.1" lengthAdjust="spacingAndGlyphs">FCC-eh kinematic range</text>
<rect x="38.8" y="24.8" width="110.5" height="41.2" fill="#fff" stroke="#f0f0f0" stroke-width="0.6"/>
<rect x="42.9" y="29.7" width="38" height="6.2" fill="url(#hatchRed)"/><path d="M42.9,32.8 h38" stroke="#dc2626" stroke-width="1.9" stroke-dasharray="4 2.6"/><rect x="42.9" y="42.6" width="37.8" height="5.4" fill="#8ccdf0"/><rect x="42.9" y="44.3" width="37.8" height="2" fill="#3f86df"/>
<text x="88" y="35.9" font-size="9.4" textLength="26.4" lengthAdjust="spacingAndGlyphs" fill="#333333">NNLO</text>
<text x="88" y="49" font-size="9.4" textLength="50.7" lengthAdjust="spacingAndGlyphs" fill="#333333">NNLO+NLL</text>
<text x="139.6" y="49" font-size="9.4" font-style="italic" fill="#333333">x</text>
<path d="M57.5,52.9 h8 M57.5,62.2 h8 M61.5,52.9 V62.2" stroke="#1c1a6e" stroke-width="1.1" fill="none"/><circle cx="61.5" cy="57.5" r="1.6" fill="#1c1a6e"/>
<text x="88" y="61.5" font-size="9.4" textLength="53.5" lengthAdjust="spacingAndGlyphs" fill="#333333">Pseudo-Data</text>
<rect x="194.5" y="32.0" width="148.5" height="145.0" fill="#fff"/>
<g clip-path="url(#clipI)">
<clipPath id="I_blue"><path d="M188,14 L190,14 L192.03,16.06 L194.05,18.07 L196.08,20.08 L198.1,22.11 L200.13,24.2 L202.15,26.38 L204.18,28.7 L206.2,31.17 L208.23,33.84 L210.25,36.67 L212.28,39.59 L214.3,42.51 L216.33,45.38 L218.35,48.16 L220.38,50.92 L222.41,53.75 L224.43,56.7 L226.46,59.75 L228.48,62.79 L230.51,65.72 L232.53,68.47 L234.56,71.04 L236.58,73.42 L238.61,75.61 L240.63,77.6 L242.66,79.44 L244.68,81.18 L246.71,82.9 L248.73,84.68 L250.76,86.54 L252.78,88.45 L254.81,90.4 L256.84,92.37 L258.86,94.35 L260.89,96.31 L262.91,98.24 L264.94,100.13 L266.96,101.95 L268.99,103.71 L271.01,105.41 L273.04,107.06 L275.06,108.67 L277.09,110.23 L279.11,111.75 L281.14,113.23 L283.16,114.69 L285.19,116.12 L287.22,117.54 L289.24,118.96 L291.27,120.4 L293.29,121.85 L295.32,123.32 L297.34,124.8 L299.37,126.28 L301.39,127.77 L303.42,129.26 L305.44,130.75 L307.47,132.23 L309.49,133.7 L311.52,135.16 L313.54,136.6 L315.57,138.02 L317.59,139.43 L319.62,140.82 L321.65,142.18 L323.67,143.53 L325.7,144.85 L327.72,146.15 L329.75,147.42 L331.77,148.66 L333.8,149.88 L335.82,151.07 L337.85,152.23 L339.87,153.36 L341.9,154.45 L343.92,155.52 L345.95,156.55 L347.97,157.54 L350,158.5 L350,158.5 L350,163.5 L350,163.5 L347.98,162.31 L345.95,161.12 L343.92,159.93 L341.9,158.74 L339.88,157.55 L337.85,156.36 L335.82,155.16 L333.8,153.95 L331.77,152.74 L329.75,151.52 L327.73,150.29 L325.7,149.05 L323.67,147.8 L321.65,146.54 L319.62,145.25 L317.6,143.96 L315.57,142.64 L313.55,141.31 L311.52,139.95 L309.5,138.58 L307.48,137.2 L305.45,135.8 L303.43,134.39 L301.4,132.97 L299.38,131.55 L297.35,130.12 L295.32,128.69 L293.3,127.25 L291.27,125.82 L289.25,124.39 L287.23,122.96 L285.2,121.54 L283.18,120.13 L281.15,118.72 L279.12,117.32 L277.1,115.93 L275.07,114.53 L273.05,113.13 L271.02,111.74 L269,110.33 L266.98,108.92 L264.95,107.51 L262.93,106.08 L260.9,104.64 L258.88,103.19 L256.85,101.73 L254.82,100.26 L252.8,98.79 L250.78,97.32 L248.75,95.86 L246.72,94.42 L244.7,93 L242.68,91.6 L240.65,90.23 L238.62,88.89 L236.6,87.59 L234.57,86.34 L232.55,85.12 L230.53,83.89 L228.5,82.61 L226.47,81.21 L224.45,79.69 L222.43,78.08 L220.4,76.4 L218.38,74.67 L216.35,72.91 L214.32,71.15 L212.3,69.42 L210.28,67.72 L208.25,66.1 L206.22,64.54 L204.2,63.03 L202.18,61.57 L200.15,60.15 L198.12,58.77 L196.1,57.4 L194.07,56.05 L192.05,54.71 L190.03,53.36 L188,52 L188,52Z"/></clipPath>
<clipPath id="I_red"><path d="M188,54 L188,54 L190.03,55.57 L192.05,57.09 L194.07,58.55 L196.1,59.98 L198.12,61.37 L200.15,62.75 L202.18,64.11 L204.2,65.47 L206.22,66.84 L208.25,68.23 L210.28,69.64 L212.3,71.08 L214.32,72.54 L216.35,74.02 L218.38,75.52 L220.4,77.03 L222.43,78.56 L224.45,80.1 L226.47,81.65 L228.5,83.21 L230.53,84.76 L232.55,86.32 L234.57,87.88 L236.6,89.43 L238.62,90.98 L240.65,92.51 L242.68,94.02 L244.7,95.5 L246.72,96.93 L248.75,98.32 L250.78,99.66 L252.8,100.96 L254.82,102.26 L256.85,103.56 L258.88,104.88 L260.9,106.23 L262.93,107.64 L264.95,109.11 L266.98,110.66 L269,112.26 L271.02,113.88 L273.05,115.49 L275.07,117.06 L277.1,118.56 L279.12,120.02 L281.15,121.43 L283.18,122.81 L285.2,124.17 L287.23,125.52 L289.25,126.89 L291.27,128.27 L293.3,129.68 L295.32,131.1 L297.35,132.53 L299.38,133.96 L301.4,135.39 L303.43,136.8 L305.45,138.19 L307.48,139.56 L309.5,140.9 L311.52,142.2 L313.55,143.46 L315.57,144.67 L317.6,145.84 L319.62,146.97 L321.65,148.06 L323.67,149.11 L325.7,150.13 L327.73,151.12 L329.75,152.08 L331.77,153.01 L333.8,153.91 L335.82,154.79 L337.85,155.66 L339.88,156.5 L341.9,157.32 L343.92,158.13 L345.95,158.93 L347.98,159.72 L350,160.5 L350,160.5 L350,167 L350,167 L347.98,166.24 L345.95,165.46 L343.92,164.67 L341.9,163.86 L339.88,163.02 L337.85,162.17 L335.82,161.3 L333.8,160.41 L331.77,159.5 L329.75,158.57 L327.73,157.63 L325.7,156.66 L323.67,155.67 L321.65,154.66 L319.62,153.64 L317.6,152.59 L315.57,151.52 L313.55,150.43 L311.52,149.32 L309.5,148.19 L307.48,147.04 L305.45,145.87 L303.43,144.68 L301.4,143.47 L299.38,142.25 L297.35,141 L295.32,139.73 L293.3,138.44 L291.27,137.13 L289.25,135.81 L287.23,134.47 L285.2,133.12 L283.18,131.78 L281.15,130.46 L279.12,129.16 L277.1,127.91 L275.07,126.7 L273.05,125.55 L271.02,124.46 L269,123.46 L266.98,122.55 L264.95,121.69 L262.93,120.79 L260.9,119.79 L258.88,118.62 L256.85,117.31 L254.82,115.9 L252.8,114.42 L250.78,112.91 L248.75,111.39 L246.72,109.91 L244.7,108.49 L242.68,107.12 L240.65,105.82 L238.62,104.57 L236.6,103.39 L234.57,102.28 L232.55,101.23 L230.53,100.24 L228.5,99.33 L226.47,98.46 L224.45,97.61 L222.43,96.76 L220.4,95.87 L218.38,94.93 L216.35,93.89 L214.32,92.74 L212.3,91.49 L210.28,90.14 L208.25,88.72 L206.22,87.24 L204.2,85.72 L202.18,84.17 L200.15,82.61 L198.12,81.07 L196.1,79.54 L194.07,78.05 L192.05,76.62 L190.03,75.27 L188,74 L188,74Z"/></clipPath>
<g clip-path="url(#I_red)"><path d="M69.7,54 L182.7,167 M76.7,54 L189.7,167 M83.7,54 L196.7,167 M90.7,54 L203.7,167 M97.7,54 L210.7,167 M104.7,54 L217.7,167 M111.7,54 L224.7,167 M118.7,54 L231.7,167 M125.7,54 L238.7,167 M132.7,54 L245.7,167 M139.7,54 L252.7,167 M146.7,54 L259.7,167 M153.7,54 L266.7,167 M160.7,54 L273.7,167 M167.7,54 L280.7,167 M174.7,54 L287.7,167 M181.7,54 L294.7,167 M188.7,54 L301.7,167 M195.7,54 L308.7,167 M202.7,54 L315.7,167 M209.7,54 L322.7,167 M216.7,54 L329.7,167 M223.7,54 L336.7,167 M230.7,54 L343.7,167 M237.7,54 L350.7,167 M244.7,54 L357.7,167 M251.7,54 L364.7,167 M258.7,54 L371.7,167 M265.7,54 L378.7,167 M272.7,54 L385.7,167 M279.7,54 L392.7,167 M286.7,54 L399.7,167 M293.7,54 L406.7,167 M300.7,54 L413.7,167 M307.7,54 L420.7,167 M314.7,54 L427.7,167 M321.7,54 L434.7,167 M328.7,54 L441.7,167 M335.7,54 L448.7,167 M342.7,54 L455.7,167 M349.7,54 L462.7,167" stroke="#c44c4c" stroke-width="1.05" fill="none"/></g>
<path d="M188,54 L190.03,55.57 L192.05,57.09 L194.07,58.55 L196.1,59.98 L198.12,61.37 L200.15,62.75 L202.18,64.11 L204.2,65.47 L206.22,66.84 L208.25,68.23 L210.28,69.64 L212.3,71.08 L214.32,72.54 L216.35,74.02 L218.38,75.52 L220.4,77.03 L222.43,78.56 L224.45,80.1 L226.47,81.65 L228.5,83.21 L230.53,84.76 L232.55,86.32 L234.57,87.88 L236.6,89.43 L238.62,90.98 L240.65,92.51 L242.68,94.02 L244.7,95.5 L246.72,96.93 L248.75,98.32 L250.78,99.66 L252.8,100.96 L254.82,102.26 L256.85,103.56 L258.88,104.88 L260.9,106.23 L262.93,107.64 L264.95,109.11 L266.98,110.66 L269,112.26 L271.02,113.88 L273.05,115.49 L275.07,117.06 L277.1,118.56 L279.12,120.02 L281.15,121.43 L283.18,122.81 L285.2,124.17 L287.23,125.52 L289.25,126.89 L291.27,128.27 L293.3,129.68 L295.32,131.1 L297.35,132.53 L299.38,133.96 L301.4,135.39 L303.43,136.8 L305.45,138.19 L307.48,139.56 L309.5,140.9 L311.52,142.2 L313.55,143.46 L315.57,144.67 L317.6,145.84 L319.62,146.97 L321.65,148.06 L323.67,149.11 L325.7,150.13 L327.73,151.12 L329.75,152.08 L331.77,153.01 L333.8,153.91 L335.82,154.79 L337.85,155.66 L339.88,156.5 L341.9,157.32 L343.92,158.13 L345.95,158.93 L347.98,159.72 L350,160.5" fill="none" stroke="#f0a0a0" stroke-width="0.8"/>
<path d="M188,74 L190.03,75.27 L192.05,76.62 L194.07,78.05 L196.1,79.54 L198.12,81.07 L200.15,82.61 L202.18,84.17 L204.2,85.72 L206.22,87.24 L208.25,88.72 L210.28,90.14 L212.3,91.49 L214.32,92.74 L216.35,93.89 L218.38,94.93 L220.4,95.87 L222.43,96.76 L224.45,97.61 L226.47,98.46 L228.5,99.33 L230.53,100.24 L232.55,101.23 L234.57,102.28 L236.6,103.39 L238.62,104.57 L240.65,105.82 L242.68,107.12 L244.7,108.49 L246.72,109.91 L248.75,111.39 L250.78,112.91 L252.8,114.42 L254.82,115.9 L256.85,117.31 L258.88,118.62 L260.9,119.79 L262.93,120.79 L264.95,121.69 L266.98,122.55 L269,123.46 L271.02,124.46 L273.05,125.55 L275.07,126.7 L277.1,127.91 L279.12,129.16 L281.15,130.46 L283.18,131.78 L285.2,133.12 L287.23,134.47 L289.25,135.81 L291.27,137.13 L293.3,138.44 L295.32,139.73 L297.35,141 L299.38,142.25 L301.4,143.47 L303.43,144.68 L305.45,145.87 L307.48,147.04 L309.5,148.19 L311.52,149.32 L313.55,150.43 L315.57,151.52 L317.6,152.59 L319.62,153.64 L321.65,154.66 L323.67,155.67 L325.7,156.66 L327.73,157.63 L329.75,158.57 L331.77,159.5 L333.8,160.41 L335.82,161.3 L337.85,162.17 L339.88,163.02 L341.9,163.86 L343.92,164.67 L345.95,165.46 L347.98,166.24 L350,167" fill="none" stroke="#f0a0a0" stroke-width="0.8"/>
<path d="M188,14 L190,14 L192.03,16.06 L194.05,18.07 L196.08,20.08 L198.1,22.11 L200.13,24.2 L202.15,26.38 L204.18,28.7 L206.2,31.17 L208.23,33.84 L210.25,36.67 L212.28,39.59 L214.3,42.51 L216.33,45.38 L218.35,48.16 L220.38,50.92 L222.41,53.75 L224.43,56.7 L226.46,59.75 L228.48,62.79 L230.51,65.72 L232.53,68.47 L234.56,71.04 L236.58,73.42 L238.61,75.61 L240.63,77.6 L242.66,79.44 L244.68,81.18 L246.71,82.9 L248.73,84.68 L250.76,86.54 L252.78,88.45 L254.81,90.4 L256.84,92.37 L258.86,94.35 L260.89,96.31 L262.91,98.24 L264.94,100.13 L266.96,101.95 L268.99,103.71 L271.01,105.41 L273.04,107.06 L275.06,108.67 L277.09,110.23 L279.11,111.75 L281.14,113.23 L283.16,114.69 L285.19,116.12 L287.22,117.54 L289.24,118.96 L291.27,120.4 L293.29,121.85 L295.32,123.32 L297.34,124.8 L299.37,126.28 L301.39,127.77 L303.42,129.26 L305.44,130.75 L307.47,132.23 L309.49,133.7 L311.52,135.16 L313.54,136.6 L315.57,138.02 L317.59,139.43 L319.62,140.82 L321.65,142.18 L323.67,143.53 L325.7,144.85 L327.72,146.15 L329.75,147.42 L331.77,148.66 L333.8,149.88 L335.82,151.07 L337.85,152.23 L339.87,153.36 L341.9,154.45 L343.92,155.52 L345.95,156.55 L347.97,157.54 L350,158.5 L350,158.5 L350,163.5 L350,163.5 L347.98,162.31 L345.95,161.12 L343.92,159.93 L341.9,158.74 L339.88,157.55 L337.85,156.36 L335.82,155.16 L333.8,153.95 L331.77,152.74 L329.75,151.52 L327.73,150.29 L325.7,149.05 L323.67,147.8 L321.65,146.54 L319.62,145.25 L317.6,143.96 L315.57,142.64 L313.55,141.31 L311.52,139.95 L309.5,138.58 L307.48,137.2 L305.45,135.8 L303.43,134.39 L301.4,132.97 L299.38,131.55 L297.35,130.12 L295.32,128.69 L293.3,127.25 L291.27,125.82 L289.25,124.39 L287.23,122.96 L285.2,121.54 L283.18,120.13 L281.15,118.72 L279.12,117.32 L277.1,115.93 L275.07,114.53 L273.05,113.13 L271.02,111.74 L269,110.33 L266.98,108.92 L264.95,107.51 L262.93,106.08 L260.9,104.64 L258.88,103.19 L256.85,101.73 L254.82,100.26 L252.8,98.79 L250.78,97.32 L248.75,95.86 L246.72,94.42 L244.7,93 L242.68,91.6 L240.65,90.23 L238.62,88.89 L236.6,87.59 L234.57,86.34 L232.55,85.12 L230.53,83.89 L228.5,82.61 L226.47,81.21 L224.45,79.69 L222.43,78.08 L220.4,76.4 L218.38,74.67 L216.35,72.91 L214.32,71.15 L212.3,69.42 L210.28,67.72 L208.25,66.1 L206.22,64.54 L204.2,63.03 L202.18,61.57 L200.15,60.15 L198.12,58.77 L196.1,57.4 L194.07,56.05 L192.05,54.71 L190.03,53.36 L188,52 L188,52Z" fill="#8ccdf0"/>
<g clip-path="url(#I_blue)"><g clip-path="url(#I_red)"><path d="M69.7,54 L182.7,167 M76.7,54 L189.7,167 M83.7,54 L196.7,167 M90.7,54 L203.7,167 M97.7,54 L210.7,167 M104.7,54 L217.7,167 M111.7,54 L224.7,167 M118.7,54 L231.7,167 M125.7,54 L238.7,167 M132.7,54 L245.7,167 M139.7,54 L252.7,167 M146.7,54 L259.7,167 M153.7,54 L266.7,167 M160.7,54 L273.7,167 M167.7,54 L280.7,167 M174.7,54 L287.7,167 M181.7,54 L294.7,167 M188.7,54 L301.7,167 M195.7,54 L308.7,167 M202.7,54 L315.7,167 M209.7,54 L322.7,167 M216.7,54 L329.7,167 M223.7,54 L336.7,167 M230.7,54 L343.7,167 M237.7,54 L350.7,167 M244.7,54 L357.7,167 M251.7,54 L364.7,167 M258.7,54 L371.7,167 M265.7,54 L378.7,167 M272.7,54 L385.7,167 M279.7,54 L392.7,167 M286.7,54 L399.7,167 M293.7,54 L406.7,167 M300.7,54 L413.7,167 M307.7,54 L420.7,167 M314.7,54 L427.7,167 M321.7,54 L434.7,167 M328.7,54 L441.7,167 M335.7,54 L448.7,167 M342.7,54 L455.7,167 M349.7,54 L462.7,167" stroke="#3c5096" stroke-width="1.0" fill="none"/></g></g>
<path d="M190,14 L192.03,16.06 L194.05,18.07 L196.08,20.08 L198.1,22.11 L200.13,24.2 L202.15,26.38 L204.18,28.7 L206.2,31.17 L208.23,33.84 L210.25,36.67 L212.28,39.59 L214.3,42.51 L216.33,45.38 L218.35,48.16 L220.38,50.92 L222.41,53.75 L224.43,56.7 L226.46,59.75 L228.48,62.79 L230.51,65.72 L232.53,68.47 L234.56,71.04 L236.58,73.42 L238.61,75.61 L240.63,77.6 L242.66,79.44 L244.68,81.18 L246.71,82.9 L248.73,84.68 L250.76,86.54 L252.78,88.45 L254.81,90.4 L256.84,92.37 L258.86,94.35 L260.89,96.31 L262.91,98.24 L264.94,100.13 L266.96,101.95 L268.99,103.71 L271.01,105.41 L273.04,107.06 L275.06,108.67 L277.09,110.23 L279.11,111.75 L281.14,113.23 L283.16,114.69 L285.19,116.12 L287.22,117.54 L289.24,118.96 L291.27,120.4 L293.29,121.85 L295.32,123.32 L297.34,124.8 L299.37,126.28 L301.39,127.77 L303.42,129.26 L305.44,130.75 L307.47,132.23 L309.49,133.7 L311.52,135.16 L313.54,136.6 L315.57,138.02 L317.59,139.43 L319.62,140.82 L321.65,142.18 L323.67,143.53 L325.7,144.85 L327.72,146.15 L329.75,147.42 L331.77,148.66 L333.8,149.88 L335.82,151.07 L337.85,152.23 L339.87,153.36 L341.9,154.45 L343.92,155.52 L345.95,156.55 L347.97,157.54 L350,158.5" fill="none" stroke="#5f7f96" stroke-width="0.7"/>
<path d="M188,52 L190.03,53.36 L192.05,54.71 L194.07,56.05 L196.1,57.4 L198.12,58.77 L200.15,60.15 L202.18,61.57 L204.2,63.03 L206.22,64.54 L208.25,66.1 L210.28,67.72 L212.3,69.42 L214.32,71.15 L216.35,72.91 L218.38,74.67 L220.4,76.4 L222.43,78.08 L224.45,79.69 L226.47,81.21 L228.5,82.61 L230.53,83.89 L232.55,85.12 L234.57,86.34 L236.6,87.59 L238.62,88.89 L240.65,90.23 L242.68,91.6 L244.7,93 L246.72,94.42 L248.75,95.86 L250.78,97.32 L252.8,98.79 L254.82,100.26 L256.85,101.73 L258.88,103.19 L260.9,104.64 L262.93,106.08 L264.95,107.51 L266.98,108.92 L269,110.33 L271.02,111.74 L273.05,113.13 L275.07,114.53 L277.1,115.93 L279.12,117.32 L281.15,118.72 L283.18,120.13 L285.2,121.54 L287.23,122.96 L289.25,124.39 L291.27,125.82 L293.3,127.25 L295.32,128.69 L297.35,130.12 L299.38,131.55 L301.4,132.97 L303.43,134.39 L305.45,135.8 L307.48,137.2 L309.5,138.58 L311.52,139.95 L313.55,141.31 L315.57,142.64 L317.6,143.96 L319.62,145.25 L321.65,146.54 L323.67,147.8 L325.7,149.05 L327.73,150.29 L329.75,151.52 L331.77,152.74 L333.8,153.95 L335.82,155.16 L337.85,156.36 L339.88,157.55 L341.9,158.74 L343.92,159.93 L345.95,161.12 L347.98,162.31 L350,163.5" fill="none" stroke="#5f7f96" stroke-width="0.7"/>
<path d="M188,54 L190.03,55.57 L192.05,57.09 L194.07,58.55 L196.1,59.98 L198.12,61.37 L200.15,62.75 L202.18,64.11 L204.2,65.47 L206.22,66.84 L208.25,68.23 L210.28,69.64 L212.3,71.08 L214.32,72.54 L216.35,74.02 L218.38,75.52 L220.4,77.03 L222.43,78.56 L224.45,80.1 L226.47,81.65 L228.5,83.21 L230.53,84.76 L232.55,86.32 L234.57,87.88 L236.6,89.43 L238.62,90.98 L240.65,92.51 L242.68,94.02 L244.7,95.5 L246.72,96.93 L248.75,98.32 L250.78,99.66 L252.8,100.96 L254.82,102.26 L256.85,103.56 L258.88,104.88 L260.9,106.23 L262.93,107.64 L264.95,109.11 L266.98,110.66 L269,112.26 L271.02,113.88 L273.05,115.49 L275.07,117.06 L277.1,118.56 L279.12,120.02 L281.15,121.43 L283.18,122.81 L285.2,124.17 L287.23,125.52 L289.25,126.89 L291.27,128.27 L293.3,129.68 L295.32,131.1 L297.35,132.53 L299.38,133.96 L301.4,135.39 L303.43,136.8 L305.45,138.19 L307.48,139.56 L309.5,140.9 L311.52,142.2 L313.55,143.46 L315.57,144.67 L317.6,145.84 L319.62,146.97 L321.65,148.06 L323.67,149.11 L325.7,150.13 L327.73,151.12 L329.75,152.08 L331.77,153.01 L333.8,153.91 L335.82,154.79 L337.85,155.66 L339.88,156.5 L341.9,157.32 L343.92,158.13 L345.95,158.93 L347.98,159.72 L350,160.5" fill="none" stroke="#5a62a0" stroke-width="0.8" clip-path="url(#I_blue)"/>
<path d="M188,74 L190.03,75.27 L192.05,76.62 L194.07,78.05 L196.1,79.54 L198.12,81.07 L200.15,82.61 L202.18,84.17 L204.2,85.72 L206.22,87.24 L208.25,88.72 L210.28,90.14 L212.3,91.49 L214.32,92.74 L216.35,93.89 L218.38,94.93 L220.4,95.87 L222.43,96.76 L224.45,97.61 L226.47,98.46 L228.5,99.33 L230.53,100.24 L232.55,101.23 L234.57,102.28 L236.6,103.39 L238.62,104.57 L240.65,105.82 L242.68,107.12 L244.7,108.49 L246.72,109.91 L248.75,111.39 L250.78,112.91 L252.8,114.42 L254.82,115.9 L256.85,117.31 L258.88,118.62 L260.9,119.79 L262.93,120.79 L264.95,121.69 L266.98,122.55 L269,123.46 L271.02,124.46 L273.05,125.55 L275.07,126.7 L277.1,127.91 L279.12,129.16 L281.15,130.46 L283.18,131.78 L285.2,133.12 L287.23,134.47 L289.25,135.81 L291.27,137.13 L293.3,138.44 L295.32,139.73 L297.35,141 L299.38,142.25 L301.4,143.47 L303.43,144.68 L305.45,145.87 L307.48,147.04 L309.5,148.19 L311.52,149.32 L313.55,150.43 L315.57,151.52 L317.6,152.59 L319.62,153.64 L321.65,154.66 L323.67,155.67 L325.7,156.66 L327.73,157.63 L329.75,158.57 L331.77,159.5 L333.8,160.41 L335.82,161.3 L337.85,162.17 L339.88,163.02 L341.9,163.86 L343.92,164.67 L345.95,165.46 L347.98,166.24 L350,167" fill="none" stroke="#5a62a0" stroke-width="0.8" clip-path="url(#I_blue)"/>
<path d="M188,27 L190.03,29.4 L192.05,31.87 L194.07,34.39 L196.1,36.91 L198.12,39.4 L200.15,41.8 L202.18,44.08 L204.2,46.23 L206.22,48.23 L208.25,50.08 L210.28,51.79 L212.3,53.41 L214.32,55 L216.35,56.63 L218.38,58.33 L220.4,60.13 L222.43,62.04 L224.45,64.06 L226.47,66.15 L228.5,68.22 L230.53,70.21 L232.55,72.06 L234.57,73.83 L236.6,75.6 L238.62,77.42 L240.65,79.33 L242.68,81.3 L244.7,83.3 L246.72,85.33 L248.75,87.35 L250.78,89.36 L252.8,91.35 L254.82,93.32 L256.85,95.27 L258.88,97.19 L260.9,99.07 L262.93,100.92 L264.95,102.73 L266.98,104.5 L269,106.23 L271.02,107.91 L273.05,109.55 L275.07,111.16 L277.1,112.72 L279.12,114.25 L281.15,115.74 L283.18,117.2 L285.2,118.63 L287.23,120.05 L289.25,121.47 L291.27,122.91 L293.3,124.38 L295.32,125.86 L297.35,127.36 L299.38,128.87 L301.4,130.39 L303.43,131.91 L305.45,133.43 L307.48,134.95 L309.5,136.46 L311.52,137.95 L313.55,139.43 L315.57,140.89 L317.6,142.33 L319.62,143.75 L321.65,145.14 L323.67,146.51 L325.7,147.85 L327.73,149.16 L329.75,150.43 L331.77,151.68 L333.8,152.88 L335.82,154.05 L337.85,155.18 L339.88,156.27 L341.9,157.31 L343.92,158.3 L345.95,159.25 L347.98,160.15 L350,161" fill="none" stroke="#3f86df" stroke-width="2"/>
<path d="M188,62.5 L190.03,63.9 L192.05,65.24 L194.07,66.55 L196.1,67.82 L198.12,69.06 L200.15,70.28 L202.18,71.49 L204.2,72.7 L206.22,73.9 L208.25,75.12 L210.28,76.35 L212.3,77.61 L214.32,78.9 L216.35,80.23 L218.38,81.61 L220.4,83.02 L222.43,84.46 L224.45,85.92 L226.47,87.4 L228.5,88.89 L230.53,90.39 L232.55,91.88 L234.57,93.37 L236.6,94.85 L238.62,96.33 L240.65,97.8 L242.68,99.25 L244.7,100.7 L246.72,102.13 L248.75,103.54 L250.78,104.94 L252.8,106.33 L254.82,107.71 L256.85,109.09 L258.88,110.46 L260.9,111.84 L262.93,113.22 L264.95,114.6 L266.98,116 L269,117.4 L271.02,118.81 L273.05,120.23 L275.07,121.64 L277.1,123.06 L279.12,124.47 L281.15,125.87 L283.18,127.27 L285.2,128.66 L287.23,130.04 L289.25,131.4 L291.27,132.75 L293.3,134.08 L295.32,135.39 L297.35,136.68 L299.38,137.96 L301.4,139.22 L303.43,140.46 L305.45,141.68 L307.48,142.88 L309.5,144.07 L311.52,145.23 L313.55,146.37 L315.57,147.5 L317.6,148.6 L319.62,149.69 L321.65,150.75 L323.67,151.79 L325.7,152.82 L327.73,153.82 L329.75,154.8 L331.77,155.77 L333.8,156.71 L335.82,157.63 L337.85,158.53 L339.88,159.41 L341.9,160.27 L343.92,161.11 L345.95,161.93 L347.98,162.72 L350,163.5" fill="none" stroke="#dc2626" stroke-width="2.2" stroke-dasharray="3.1 3.5"/>
</g>
<path d="M188,45 L190.07,46.84 L192.13,48.63 L194.2,50.37 L196.27,52.07 L198.33,53.74 L200.4,55.38 L202.47,57 L204.53,58.61 L206.6,60.22 L208.67,61.82 L210.73,63.43 L212.8,65.05 L214.87,66.69 L216.93,68.35 L219,70.03 L221.07,71.71 L223.13,73.4 L225.2,75.09 L227.27,76.76 L229.33,78.43 L231.4,80.07 L233.47,81.69 L235.53,83.27 L237.6,84.82 L239.67,86.33 L241.73,87.78 L243.8,89.18 L245.87,90.52 L247.93,91.8 L250,93" fill="none" stroke="#5a62a0" stroke-width="0.7" clip-path="url(#clipI)"/>
<g clip-path="url(#clipI)">
<path d="M215.05,56.9 h9.5 M215.05,62.1 h9.5 M219.8,56.9 V62.1" stroke="#1c1a6e" stroke-width="1.1" fill="none"/><rect x="218.3" y="58" width="3" height="3" fill="#1c1a6e"/>
<path d="M237.75,79.6 h9.5 M237.75,84.4 h9.5 M242.5,79.6 V84.4" stroke="#1c1a6e" stroke-width="1.1" fill="none"/><rect x="241" y="80.5" width="3" height="3" fill="#1c1a6e"/>
<rect x="274.25" y="111.5" width="9.5" height="2.6" fill="#1c1a6e"/>
<path d="M313.05,138.3 h9.5 M313.05,144.3 h9.5 M317.8,138.3 V144.3" stroke="#1c1a6e" stroke-width="1.1" fill="none"/><rect x="316.3" y="139.8" width="3" height="3" fill="#1c1a6e"/>
<path d="M335.25,152.9 h9.5 M335.25,158.5 h9.5 M340,152.9 V158.5" stroke="#1c1a6e" stroke-width="1.1" fill="none"/><rect x="338.5" y="154.2" width="3" height="3" fill="#1c1a6e"/>
<path d="M212.15,55.4 h7.5 M212.15,63.6 h7.5" stroke="#e89a70" stroke-width="1.1" fill="none"/><rect x="213.6" y="57.8" width="4.6" height="3.4" rx="1" fill="#f07a2a"/><path d="M215.9,55.4 V63.6" stroke="#f07a2a" stroke-width="1.2"/>
<path d="M235.05,78.4 h7.5 M235.05,85.6 h7.5" stroke="#e89a70" stroke-width="1.1" fill="none"/><rect x="236.5" y="80.3" width="4.6" height="3.4" rx="1" fill="#f07a2a"/><path d="M238.8,78.4 V85.6" stroke="#f07a2a" stroke-width="1.2"/>
</g>
<path d="M194.22,177 v-3 M194.22,32 v3 M206.4,177 v-3 M206.4,32 v3 M215.85,177 v-3 M215.85,32 v3 M223.57,177 v-3 M223.57,32 v3 M230.1,177 v-3 M230.1,32 v3 M235.75,177 v-3 M235.75,32 v3 M240.74,177 v-3 M240.74,32 v3 M245.2,177 v-6 M245.2,32 v6 M274.55,177 v-3 M274.55,32 v3 M291.72,177 v-3 M291.72,32 v3 M303.9,177 v-3 M303.9,32 v3 M313.35,177 v-3 M313.35,32 v3 M321.07,177 v-3 M321.07,32 v3 M327.6,177 v-3 M327.6,32 v3 M333.25,177 v-3 M333.25,32 v3 M338.24,177 v-3 M338.24,32 v3 M342.7,177 v-6 M342.7,32 v6" stroke="#1a1a1a" stroke-width="1" fill="none"/>
<path d="M194.5,68.25 h6 M343,68.25 h-6 M194.5,104.5 h6 M343,104.5 h-6 M194.5,140.75 h6 M343,140.75 h-6" stroke="#1a1a1a" stroke-width="1" fill="none"/>
<rect x="194.5" y="32.0" width="148.5" height="145.0" fill="none" stroke="#1a1a1a" stroke-width="1.25"/>
<text x="187" y="35.9" font-size="11" fill="#333333" text-anchor="end" >1.4</text>
<text x="187" y="72.15" font-size="11" fill="#333333" text-anchor="end" >1.2</text>
<text x="187" y="108.4" font-size="11" fill="#333333" text-anchor="end" >1.0</text>
<text x="187" y="144.65" font-size="11" fill="#333333" text-anchor="end" >0.8</text>
<text x="187" y="180.9" font-size="11" fill="#333333" text-anchor="end" >0.6</text>
<text x="233.5" y="191.5" font-size="11" fill="#333333">10</text><text x="246.1" y="187.7" font-size="8.5" fill="#333333">&#8722;4</text>
<text x="331" y="191.5" font-size="11" fill="#333333">10</text><text x="343.6" y="187.7" font-size="8.5" fill="#333333">&#8722;3</text>
<path d="M35.15,312.4 v-3 M35.15,20.5 v3 M44.54,312.4 v-3 M44.54,20.5 v3 M52.21,312.4 v-3 M52.21,20.5 v3 M58.69,312.4 v-3 M58.69,20.5 v3 M64.31,312.4 v-3 M64.31,20.5 v3 M69.27,312.4 v-3 M69.27,20.5 v3 M73.7,312.4 v-6 M73.7,20.5 v6 M102.86,312.4 v-3 M102.86,20.5 v3 M119.92,312.4 v-3 M119.92,20.5 v3 M132.02,312.4 v-3 M132.02,20.5 v3 M141.41,312.4 v-3 M141.41,20.5 v3 M149.08,312.4 v-3 M149.08,20.5 v3 M155.56,312.4 v-3 M155.56,20.5 v3 M161.18,312.4 v-3 M161.18,20.5 v3 M166.14,312.4 v-3 M166.14,20.5 v3 M170.57,312.4 v-6 M170.57,20.5 v6 M199.73,312.4 v-3 M199.73,20.5 v3 M216.79,312.4 v-3 M216.79,20.5 v3 M228.89,312.4 v-3 M228.89,20.5 v3 M238.28,312.4 v-3 M238.28,20.5 v3 M245.95,312.4 v-3 M245.95,20.5 v3 M252.43,312.4 v-3 M252.43,20.5 v3 M258.05,312.4 v-3 M258.05,20.5 v3 M263.01,312.4 v-3 M263.01,20.5 v3 M267.44,312.4 v-6 M267.44,20.5 v6 M296.6,312.4 v-3 M296.6,20.5 v3 M313.66,312.4 v-3 M313.66,20.5 v3 M325.76,312.4 v-3 M325.76,20.5 v3 M335.15,312.4 v-3 M335.15,20.5 v3 M342.82,312.4 v-3 M342.82,20.5 v3 M349.3,312.4 v-3 M349.3,20.5 v3 M354.92,312.4 v-3 M354.92,20.5 v3 M359.88,312.4 v-3 M359.88,20.5 v3 M364.31,312.4 v-6 M364.31,20.5 v6" stroke="#1a1a1a" stroke-width="1" fill="none"/>
<path d="M35,254.02 h6 M364.3,254.02 h-6 M35,195.64 h6 M364.3,195.64 h-6 M35,137.26 h6 M364.3,137.26 h-6 M35,78.88 h6 M364.3,78.88 h-6" stroke="#1a1a1a" stroke-width="1" fill="none"/>
<rect x="34.8" y="20.6" width="329.5" height="291.7" fill="none" stroke="#1a1a1a" stroke-width="1.3"/>
<text x="28.1" y="316.1" font-size="11" fill="#333333" text-anchor="end" >0</text>
<text x="28.1" y="257.72" font-size="11" fill="#333333" text-anchor="end" >1</text>
<text x="28.1" y="199.34" font-size="11" fill="#333333" text-anchor="end" >2</text>
<text x="28.1" y="140.96" font-size="11" fill="#333333" text-anchor="end" >3</text>
<text x="28.1" y="82.58" font-size="11" fill="#333333" text-anchor="end" >4</text>
<text x="28.1" y="24.2" font-size="11" fill="#333333" text-anchor="end" >5</text>
<text x="62" y="327.2" font-size="11" fill="#333333">10</text><text x="74.6" y="323.4" font-size="8.5" fill="#333333">&#8722;6</text>
<text x="158.87" y="327.2" font-size="11" fill="#333333">10</text><text x="171.47" y="323.4" font-size="8.5" fill="#333333">&#8722;5</text>
<text x="255.74" y="327.2" font-size="11" fill="#333333">10</text><text x="268.34" y="323.4" font-size="8.5" fill="#333333">&#8722;4</text>
<text x="352.61" y="327.2" font-size="11" fill="#333333">10</text><text x="365.21" y="323.4" font-size="8.5" fill="#333333">&#8722;3</text>
<text x="196.9" y="345.6" font-size="11" fill="#333333" text-anchor="start" >x</text>
<g transform="translate(9,172) rotate(-90)"><text x="0" y="0" font-size="10.5" font-style="italic" fill="#333333">F</text><text x="7.8" y="-4.9" font-size="7" font-style="italic" fill="#333333">p</text><text x="6.3" y="3.3" font-size="7" font-style="normal" fill="#333333">2</text></g>
<text x="116.8" y="11.9" font-size="12" textLength="81.6" lengthAdjust="spacingAndGlyphs" fill="#333333">NNPDF3.1sx,</text><text x="203.8" y="11.9" font-size="12" font-style="italic" fill="#333333">Q</text><text x="215" y="7.6" font-size="8.5" fill="#333333">2</text><path d="M225,7.6 h9.8 M225,10.4 h9.8" stroke="#333333" stroke-width="0.9"/><text x="239.7" y="12.1" font-size="12" fill="#333333">5</text><text x="252.2" y="11.9" font-size="12" textLength="23" lengthAdjust="spacingAndGlyphs" fill="#333333">GeV</text><text x="276.7" y="7.6" font-size="8.5" fill="#333333">2</text>
<g clip-path="url(#clipR)">
<clipPath id="R_blue"><path d="M440,-5.8 L470,-5.8 L472.01,-3.22 L474.02,-0.63 L476.04,1.95 L478.05,4.54 L480.06,7.13 L482.07,9.72 L484.09,12.31 L486.1,14.91 L488.11,17.5 L490.12,20.1 L492.13,22.69 L494.15,25.29 L496.16,27.89 L498.17,30.48 L500.18,33.08 L502.2,35.68 L504.21,38.27 L506.22,40.87 L508.23,43.47 L510.24,46.07 L512.26,48.66 L514.27,51.26 L516.28,53.85 L518.29,56.45 L520.3,59.04 L522.32,61.63 L524.33,64.22 L526.34,66.81 L528.35,69.4 L530.37,71.98 L532.38,74.57 L534.39,77.15 L536.4,79.73 L538.41,82.31 L540.43,84.88 L542.44,87.46 L544.45,90.03 L546.46,92.6 L548.48,95.16 L550.49,97.73 L552.5,100.28 L554.51,102.82 L556.52,105.33 L558.54,107.82 L560.55,110.27 L562.56,112.67 L564.57,115.03 L566.59,117.33 L568.6,119.56 L570.61,121.72 L572.62,123.8 L574.63,125.8 L576.65,127.71 L578.66,129.51 L580.67,131.21 L582.68,132.82 L584.7,134.34 L586.71,135.78 L588.72,137.16 L590.73,138.49 L592.74,139.76 L594.76,141.01 L596.77,142.22 L598.78,143.43 L600.79,144.63 L602.8,145.83 L604.82,147.05 L606.83,148.29 L608.84,149.57 L610.85,150.89 L612.87,152.26 L614.88,153.67 L616.89,155.1 L618.9,156.56 L620.91,158.03 L622.93,159.51 L624.94,160.98 L626.95,162.45 L628.96,163.91 L630.98,165.34 L632.99,166.74 L635,168.12 L637.01,169.47 L639.02,170.8 L641.04,172.1 L643.05,173.37 L645.06,174.62 L647.07,175.84 L649.09,177.04 L651.1,178.21 L653.11,179.36 L655.12,180.49 L657.13,181.59 L659.15,182.67 L661.16,183.73 L663.17,184.76 L665.18,185.77 L667.2,186.76 L669.21,187.73 L671.22,188.68 L673.23,189.6 L675.24,190.51 L677.26,191.39 L679.27,192.25 L681.28,193.1 L683.29,193.92 L685.3,194.73 L687.32,195.51 L689.33,196.28 L691.34,197.03 L693.35,197.75 L695.37,198.47 L697.38,199.16 L699.39,199.84 L701.4,200.5 L703.41,201.14 L705.43,201.76 L707.44,202.37 L709.45,202.97 L711.46,203.55 L713.48,204.11 L715.49,204.66 L717.5,205.19 L719.51,205.71 L721.52,206.21 L723.54,206.7 L725.55,207.18 L727.56,207.64 L729.57,208.09 L731.59,208.53 L733.6,208.95 L735.61,209.37 L737.62,209.77 L739.63,210.16 L741.65,210.54 L743.66,210.9 L745.67,211.26 L747.68,211.6 L749.7,211.94 L751.71,212.27 L753.72,212.58 L755.73,212.89 L757.74,213.19 L759.76,213.48 L761.77,213.76 L763.78,214.03 L765.79,214.3 L767.8,214.55 L769.82,214.8 L771.83,215.05 L773.84,215.28 L775.85,215.51 L777.87,215.74 L779.88,215.96 L781.89,216.17 L783.9,216.38 L785.91,216.58 L787.93,216.78 L789.94,216.97 L791.95,217.16 L793.96,217.35 L795.98,217.53 L797.99,217.71 L800,217.89 L800,217.89 L800,219.2 L800,219.2 L797.99,218.97 L795.98,218.74 L793.97,218.52 L791.96,218.29 L789.94,218.06 L787.93,217.83 L785.92,217.59 L783.91,217.36 L781.9,217.13 L779.89,216.9 L777.88,216.66 L775.87,216.43 L773.85,216.19 L771.84,215.95 L769.83,215.71 L767.82,215.47 L765.81,215.23 L763.8,214.99 L761.79,214.75 L759.78,214.5 L757.77,214.25 L755.75,214.01 L753.74,213.76 L751.73,213.51 L749.72,213.26 L747.71,213 L745.7,212.75 L743.69,212.49 L741.68,212.23 L739.66,211.97 L737.65,211.71 L735.64,211.45 L733.63,211.18 L731.62,210.92 L729.61,210.65 L727.6,210.38 L725.59,210.1 L723.58,209.83 L721.56,209.55 L719.55,209.27 L717.54,208.99 L715.53,208.71 L713.52,208.42 L711.51,208.13 L709.5,207.84 L707.49,207.55 L705.47,207.26 L703.46,206.96 L701.45,206.66 L699.44,206.36 L697.43,206.05 L695.42,205.74 L693.41,205.43 L691.4,205.12 L689.39,204.81 L687.37,204.49 L685.36,204.17 L683.35,203.84 L681.34,203.52 L679.33,203.19 L677.32,202.85 L675.31,202.52 L673.3,202.18 L671.28,201.84 L669.27,201.49 L667.26,201.14 L665.25,200.79 L663.24,200.44 L661.23,200.08 L659.22,199.72 L657.21,199.36 L655.2,198.99 L653.18,198.62 L651.17,198.24 L649.16,197.86 L647.15,197.48 L645.14,197.1 L643.13,196.71 L641.12,196.31 L639.11,195.92 L637.09,195.52 L635.08,195.11 L633.07,194.7 L631.06,194.29 L629.05,193.88 L627.04,193.46 L625.03,193.03 L623.02,192.6 L621.01,192.17 L618.99,191.74 L616.98,191.29 L614.97,190.85 L612.96,190.4 L610.95,189.95 L608.94,189.49 L606.93,189.03 L604.92,188.56 L602.91,188.09 L600.89,187.62 L598.88,187.15 L596.87,186.67 L594.86,186.19 L592.85,185.71 L590.84,185.23 L588.83,184.75 L586.82,184.27 L584.8,183.79 L582.79,183.31 L580.78,182.84 L578.77,182.36 L576.76,181.89 L574.75,181.42 L572.74,180.95 L570.73,180.49 L568.72,180.03 L566.7,179.57 L564.69,179.12 L562.68,178.68 L560.67,178.24 L558.66,177.8 L556.65,177.37 L554.64,176.93 L552.63,176.49 L550.61,176.05 L548.6,175.6 L546.59,175.14 L544.58,174.66 L542.57,174.18 L540.56,173.68 L538.55,173.17 L536.54,172.63 L534.53,172.07 L532.51,171.5 L530.5,170.89 L528.49,170.26 L526.48,169.6 L524.47,168.91 L522.46,168.2 L520.45,167.46 L518.44,166.71 L516.42,165.92 L514.41,165.12 L512.4,164.3 L510.39,163.46 L508.38,162.61 L506.37,161.74 L504.36,160.85 L502.35,159.95 L500.34,159.05 L498.32,158.13 L496.31,157.2 L494.3,156.27 L492.29,155.32 L490.28,154.38 L488.27,153.43 L486.26,152.48 L484.25,151.53 L482.23,150.57 L480.22,149.62 L478.21,148.68 L476.2,147.73 L474.19,146.8 L472.18,145.87 L470.17,144.94 L468.16,144.03 L466.15,143.13 L464.13,142.24 L462.12,141.36 L460.11,140.5 L458.1,139.65 L456.09,138.83 L454.08,138.02 L452.07,137.23 L450.06,136.46 L448.04,135.71 L446.03,134.99 L444.02,134.29 L442.01,133.62 L440,132.98 L440,132.98Z"/></clipPath>
<clipPath id="R_red"><path d="M440,131.35 L440,131.35 L442.01,132.23 L444.02,133.1 L446.03,133.96 L448.04,134.82 L450.06,135.67 L452.07,136.51 L454.08,137.35 L456.09,138.19 L458.1,139.02 L460.11,139.85 L462.12,140.68 L464.13,141.51 L466.15,142.34 L468.16,143.17 L470.17,144 L472.18,144.84 L474.19,145.68 L476.2,146.52 L478.21,147.37 L480.22,148.22 L482.23,149.08 L484.25,149.95 L486.26,150.83 L488.27,151.72 L490.28,152.62 L492.29,153.53 L494.3,154.45 L496.31,155.38 L498.32,156.33 L500.34,157.29 L502.35,158.26 L504.36,159.26 L506.37,160.27 L508.38,161.29 L510.39,162.34 L512.4,163.4 L514.41,164.49 L516.42,165.59 L518.44,166.7 L520.45,167.82 L522.46,168.96 L524.47,170.11 L526.48,171.27 L528.49,172.44 L530.5,173.61 L532.51,174.79 L534.53,175.97 L536.54,177.16 L538.55,178.35 L540.56,179.53 L542.57,180.72 L544.58,181.9 L546.59,183.08 L548.6,184.25 L550.61,185.42 L552.63,186.58 L554.64,187.72 L556.65,188.86 L558.66,189.99 L560.67,191.1 L562.68,192.19 L564.69,193.27 L566.7,194.33 L568.72,195.38 L570.73,196.4 L572.74,197.4 L574.75,198.38 L576.76,199.33 L578.77,200.26 L580.78,201.16 L582.79,202.04 L584.8,202.9 L586.82,203.73 L588.83,204.55 L590.84,205.34 L592.85,206.1 L594.86,206.85 L596.87,207.57 L598.88,208.28 L600.89,208.96 L602.91,209.62 L604.92,210.26 L606.93,210.88 L608.94,211.48 L610.95,212.06 L612.96,212.63 L614.97,213.17 L616.98,213.7 L618.99,214.2 L621.01,214.69 L623.02,215.17 L625.03,215.62 L627.04,216.06 L629.05,216.48 L631.06,216.89 L633.07,217.28 L635.08,217.65 L637.09,218.01 L639.11,218.35 L641.12,218.68 L643.13,219 L645.14,219.3 L647.15,219.58 L649.16,219.86 L651.17,220.12 L653.18,220.36 L655.2,220.6 L657.21,220.82 L659.22,221.03 L661.23,221.23 L663.24,221.41 L665.25,221.59 L667.26,221.76 L669.27,221.91 L671.28,222.06 L673.3,222.19 L675.31,222.32 L677.32,222.43 L679.33,222.54 L681.34,222.64 L683.35,222.73 L685.36,222.81 L687.37,222.89 L689.39,222.96 L691.4,223.02 L693.41,223.07 L695.42,223.12 L697.43,223.16 L699.44,223.2 L701.45,223.23 L703.46,223.26 L705.47,223.28 L707.49,223.29 L709.5,223.3 L711.51,223.31 L713.52,223.32 L715.53,223.32 L717.54,223.32 L719.55,223.31 L721.56,223.3 L723.58,223.29 L725.59,223.28 L727.6,223.27 L729.61,223.26 L731.62,223.24 L733.63,223.23 L735.64,223.21 L737.65,223.2 L739.66,223.18 L741.68,223.17 L743.69,223.16 L745.7,223.15 L747.71,223.14 L749.72,223.13 L751.73,223.12 L753.74,223.12 L755.75,223.12 L757.77,223.12 L759.78,223.13 L761.79,223.14 L763.8,223.15 L765.81,223.17 L767.82,223.19 L769.83,223.22 L771.84,223.26 L773.85,223.3 L775.87,223.34 L777.88,223.39 L779.89,223.45 L781.9,223.52 L783.91,223.59 L785.92,223.67 L787.93,223.76 L789.94,223.85 L791.96,223.96 L793.97,224.07 L795.98,224.19 L797.99,224.32 L800,224.46 L800,224.46 L800,228.24 L800,228.24 L797.99,228.18 L795.98,228.13 L793.97,228.07 L791.96,228.02 L789.94,227.96 L787.93,227.91 L785.92,227.86 L783.91,227.8 L781.9,227.75 L779.89,227.7 L777.88,227.65 L775.87,227.61 L773.85,227.56 L771.84,227.51 L769.83,227.47 L767.82,227.42 L765.81,227.38 L763.8,227.34 L761.79,227.3 L759.78,227.26 L757.77,227.22 L755.75,227.18 L753.74,227.14 L751.73,227.11 L749.72,227.08 L747.71,227.05 L745.7,227.02 L743.69,226.99 L741.68,226.96 L739.66,226.94 L737.65,226.91 L735.64,226.89 L733.63,226.87 L731.62,226.85 L729.61,226.84 L727.6,226.82 L725.59,226.81 L723.58,226.8 L721.56,226.79 L719.55,226.79 L717.54,226.78 L715.53,226.78 L713.52,226.78 L711.51,226.78 L709.5,226.79 L707.49,226.8 L705.47,226.8 L703.46,226.82 L701.45,226.83 L699.44,226.85 L697.43,226.87 L695.42,226.89 L693.41,226.91 L691.4,226.94 L689.39,226.97 L687.37,227 L685.36,227.04 L683.35,227.07 L681.34,227.12 L679.33,227.16 L677.32,227.21 L675.31,227.25 L673.3,227.31 L671.28,227.36 L669.27,227.42 L667.26,227.48 L665.25,227.55 L663.24,227.62 L661.23,227.69 L659.22,227.76 L657.21,227.84 L655.2,227.92 L653.18,228.01 L651.17,228.09 L649.16,228.19 L647.15,228.28 L645.14,228.38 L643.13,228.48 L641.12,228.59 L639.11,228.7 L637.09,228.81 L635.08,228.93 L633.07,229.05 L631.06,229.17 L629.05,229.3 L627.04,229.44 L625.03,229.57 L623.02,229.71 L621.01,229.86 L618.99,230.01 L616.98,230.16 L614.97,230.32 L612.96,230.48 L610.95,230.64 L608.94,230.81 L606.93,230.99 L604.92,231.17 L602.91,231.35 L600.89,231.54 L598.88,231.73 L596.87,231.93 L594.86,232.13 L592.85,232.33 L590.84,232.54 L588.83,232.76 L586.82,232.98 L584.8,233.2 L582.79,233.43 L580.78,233.67 L578.77,233.91 L576.76,234.15 L574.75,234.4 L572.74,234.65 L570.73,234.91 L568.72,235.18 L566.7,235.45 L564.69,235.72 L562.68,236 L560.67,236.29 L558.66,236.58 L556.65,236.87 L554.64,237.18 L552.63,237.48 L550.61,237.8 L548.6,238.11 L546.59,238.44 L544.58,238.77 L542.57,239.1 L540.56,239.44 L538.55,239.79 L536.54,240.14 L534.53,240.5 L532.51,240.86 L530.5,241.23 L528.49,241.61 L526.48,241.99 L524.47,242.37 L522.46,242.77 L520.45,243.17 L518.44,243.57 L516.42,243.99 L514.41,244.4 L512.4,244.83 L510.39,245.26 L508.38,245.7 L506.37,246.14 L504.36,246.59 L502.35,247.04 L500.34,247.51 L498.32,247.98 L496.31,248.45 L494.3,248.94 L492.29,249.42 L490.28,249.92 L488.27,250.42 L486.26,250.93 L484.25,251.45 L482.23,251.97 L480.22,252.5 L478.21,253.04 L476.2,253.58 L474.19,254.13 L472.18,254.69 L470.17,255.26 L468.16,255.83 L466.15,256.41 L464.13,257 L462.12,257.59 L460.11,258.19 L458.1,258.8 L456.09,259.42 L454.08,260.04 L452.07,260.67 L450.06,261.31 L448.04,261.96 L446.03,262.61 L444.02,263.27 L442.01,263.94 L440,264.62 L440,264.62Z"/></clipPath>
<g clip-path="url(#R_red)"><path d="M300.55,131.35 L433.82,264.62 M307.55,131.35 L440.82,264.62 M314.55,131.35 L447.82,264.62 M321.55,131.35 L454.82,264.62 M328.55,131.35 L461.82,264.62 M335.55,131.35 L468.82,264.62 M342.55,131.35 L475.82,264.62 M349.55,131.35 L482.82,264.62 M356.55,131.35 L489.82,264.62 M363.55,131.35 L496.82,264.62 M370.55,131.35 L503.82,264.62 M377.55,131.35 L510.82,264.62 M384.55,131.35 L517.82,264.62 M391.55,131.35 L524.82,264.62 M398.55,131.35 L531.82,264.62 M405.55,131.35 L538.82,264.62 M412.55,131.35 L545.82,264.62 M419.55,131.35 L552.82,264.62 M426.55,131.35 L559.82,264.62 M433.55,131.35 L566.82,264.62 M440.55,131.35 L573.82,264.62 M447.55,131.35 L580.82,264.62 M454.55,131.35 L587.82,264.62 M461.55,131.35 L594.82,264.62 M468.55,131.35 L601.82,264.62 M475.55,131.35 L608.82,264.62 M482.55,131.35 L615.82,264.62 M489.55,131.35 L622.82,264.62 M496.55,131.35 L629.82,264.62 M503.55,131.35 L636.82,264.62 M510.55,131.35 L643.82,264.62 M517.55,131.35 L650.82,264.62 M524.55,131.35 L657.82,264.62 M531.55,131.35 L664.82,264.62 M538.55,131.35 L671.82,264.62 M545.55,131.35 L678.82,264.62 M552.55,131.35 L685.82,264.62 M559.55,131.35 L692.82,264.62 M566.55,131.35 L699.82,264.62 M573.55,131.35 L706.82,264.62 M580.55,131.35 L713.82,264.62 M587.55,131.35 L720.82,264.62 M594.55,131.35 L727.82,264.62 M601.55,131.35 L734.82,264.62 M608.55,131.35 L741.82,264.62 M615.55,131.35 L748.82,264.62 M622.55,131.35 L755.82,264.62 M629.55,131.35 L762.82,264.62 M636.55,131.35 L769.82,264.62 M643.55,131.35 L776.82,264.62 M650.55,131.35 L783.82,264.62 M657.55,131.35 L790.82,264.62 M664.55,131.35 L797.82,264.62 M671.55,131.35 L804.82,264.62 M678.55,131.35 L811.82,264.62 M685.55,131.35 L818.82,264.62 M692.55,131.35 L825.82,264.62 M699.55,131.35 L832.82,264.62 M706.55,131.35 L839.82,264.62 M713.55,131.35 L846.82,264.62 M720.55,131.35 L853.82,264.62 M727.55,131.35 L860.82,264.62 M734.55,131.35 L867.82,264.62 M741.55,131.35 L874.82,264.62 M748.55,131.35 L881.82,264.62 M755.55,131.35 L888.82,264.62 M762.55,131.35 L895.82,264.62 M769.55,131.35 L902.82,264.62 M776.55,131.35 L909.82,264.62 M783.55,131.35 L916.82,264.62 M790.55,131.35 L923.82,264.62 M797.55,131.35 L930.82,264.62" stroke="#c44c4c" stroke-width="1.05" fill="none"/></g>
<path d="M440,131.35 L442.01,132.23 L444.02,133.1 L446.03,133.96 L448.04,134.82 L450.06,135.67 L452.07,136.51 L454.08,137.35 L456.09,138.19 L458.1,139.02 L460.11,139.85 L462.12,140.68 L464.13,141.51 L466.15,142.34 L468.16,143.17 L470.17,144 L472.18,144.84 L474.19,145.68 L476.2,146.52 L478.21,147.37 L480.22,148.22 L482.23,149.08 L484.25,149.95 L486.26,150.83 L488.27,151.72 L490.28,152.62 L492.29,153.53 L494.3,154.45 L496.31,155.38 L498.32,156.33 L500.34,157.29 L502.35,158.26 L504.36,159.26 L506.37,160.27 L508.38,161.29 L510.39,162.34 L512.4,163.4 L514.41,164.49 L516.42,165.59 L518.44,166.7 L520.45,167.82 L522.46,168.96 L524.47,170.11 L526.48,171.27 L528.49,172.44 L530.5,173.61 L532.51,174.79 L534.53,175.97 L536.54,177.16 L538.55,178.35 L540.56,179.53 L542.57,180.72 L544.58,181.9 L546.59,183.08 L548.6,184.25 L550.61,185.42 L552.63,186.58 L554.64,187.72 L556.65,188.86 L558.66,189.99 L560.67,191.1 L562.68,192.19 L564.69,193.27 L566.7,194.33 L568.72,195.38 L570.73,196.4 L572.74,197.4 L574.75,198.38 L576.76,199.33 L578.77,200.26 L580.78,201.16 L582.79,202.04 L584.8,202.9 L586.82,203.73 L588.83,204.55 L590.84,205.34 L592.85,206.1 L594.86,206.85 L596.87,207.57 L598.88,208.28 L600.89,208.96 L602.91,209.62 L604.92,210.26 L606.93,210.88 L608.94,211.48 L610.95,212.06 L612.96,212.63 L614.97,213.17 L616.98,213.7 L618.99,214.2 L621.01,214.69 L623.02,215.17 L625.03,215.62 L627.04,216.06 L629.05,216.48 L631.06,216.89 L633.07,217.28 L635.08,217.65 L637.09,218.01 L639.11,218.35 L641.12,218.68 L643.13,219 L645.14,219.3 L647.15,219.58 L649.16,219.86 L651.17,220.12 L653.18,220.36 L655.2,220.6 L657.21,220.82 L659.22,221.03 L661.23,221.23 L663.24,221.41 L665.25,221.59 L667.26,221.76 L669.27,221.91 L671.28,222.06 L673.3,222.19 L675.31,222.32 L677.32,222.43 L679.33,222.54 L681.34,222.64 L683.35,222.73 L685.36,222.81 L687.37,222.89 L689.39,222.96 L691.4,223.02 L693.41,223.07 L695.42,223.12 L697.43,223.16 L699.44,223.2 L701.45,223.23 L703.46,223.26 L705.47,223.28 L707.49,223.29 L709.5,223.3 L711.51,223.31 L713.52,223.32 L715.53,223.32 L717.54,223.32 L719.55,223.31 L721.56,223.3 L723.58,223.29 L725.59,223.28 L727.6,223.27 L729.61,223.26 L731.62,223.24 L733.63,223.23 L735.64,223.21 L737.65,223.2 L739.66,223.18 L741.68,223.17 L743.69,223.16 L745.7,223.15 L747.71,223.14 L749.72,223.13 L751.73,223.12 L753.74,223.12 L755.75,223.12 L757.77,223.12 L759.78,223.13 L761.79,223.14 L763.8,223.15 L765.81,223.17 L767.82,223.19 L769.83,223.22 L771.84,223.26 L773.85,223.3 L775.87,223.34 L777.88,223.39 L779.89,223.45 L781.9,223.52 L783.91,223.59 L785.92,223.67 L787.93,223.76 L789.94,223.85 L791.96,223.96 L793.97,224.07 L795.98,224.19 L797.99,224.32 L800,224.46" fill="none" stroke="#f0a0a0" stroke-width="0.8"/>
<path d="M440,264.62 L442.01,263.94 L444.02,263.27 L446.03,262.61 L448.04,261.96 L450.06,261.31 L452.07,260.67 L454.08,260.04 L456.09,259.42 L458.1,258.8 L460.11,258.19 L462.12,257.59 L464.13,257 L466.15,256.41 L468.16,255.83 L470.17,255.26 L472.18,254.69 L474.19,254.13 L476.2,253.58 L478.21,253.04 L480.22,252.5 L482.23,251.97 L484.25,251.45 L486.26,250.93 L488.27,250.42 L490.28,249.92 L492.29,249.42 L494.3,248.94 L496.31,248.45 L498.32,247.98 L500.34,247.51 L502.35,247.04 L504.36,246.59 L506.37,246.14 L508.38,245.7 L510.39,245.26 L512.4,244.83 L514.41,244.4 L516.42,243.99 L518.44,243.57 L520.45,243.17 L522.46,242.77 L524.47,242.37 L526.48,241.99 L528.49,241.61 L530.5,241.23 L532.51,240.86 L534.53,240.5 L536.54,240.14 L538.55,239.79 L540.56,239.44 L542.57,239.1 L544.58,238.77 L546.59,238.44 L548.6,238.11 L550.61,237.8 L552.63,237.48 L554.64,237.18 L556.65,236.87 L558.66,236.58 L560.67,236.29 L562.68,236 L564.69,235.72 L566.7,235.45 L568.72,235.18 L570.73,234.91 L572.74,234.65 L574.75,234.4 L576.76,234.15 L578.77,233.91 L580.78,233.67 L582.79,233.43 L584.8,233.2 L586.82,232.98 L588.83,232.76 L590.84,232.54 L592.85,232.33 L594.86,232.13 L596.87,231.93 L598.88,231.73 L600.89,231.54 L602.91,231.35 L604.92,231.17 L606.93,230.99 L608.94,230.81 L610.95,230.64 L612.96,230.48 L614.97,230.32 L616.98,230.16 L618.99,230.01 L621.01,229.86 L623.02,229.71 L625.03,229.57 L627.04,229.44 L629.05,229.3 L631.06,229.17 L633.07,229.05 L635.08,228.93 L637.09,228.81 L639.11,228.7 L641.12,228.59 L643.13,228.48 L645.14,228.38 L647.15,228.28 L649.16,228.19 L651.17,228.09 L653.18,228.01 L655.2,227.92 L657.21,227.84 L659.22,227.76 L661.23,227.69 L663.24,227.62 L665.25,227.55 L667.26,227.48 L669.27,227.42 L671.28,227.36 L673.3,227.31 L675.31,227.25 L677.32,227.21 L679.33,227.16 L681.34,227.12 L683.35,227.07 L685.36,227.04 L687.37,227 L689.39,226.97 L691.4,226.94 L693.41,226.91 L695.42,226.89 L697.43,226.87 L699.44,226.85 L701.45,226.83 L703.46,226.82 L705.47,226.8 L707.49,226.8 L709.5,226.79 L711.51,226.78 L713.52,226.78 L715.53,226.78 L717.54,226.78 L719.55,226.79 L721.56,226.79 L723.58,226.8 L725.59,226.81 L727.6,226.82 L729.61,226.84 L731.62,226.85 L733.63,226.87 L735.64,226.89 L737.65,226.91 L739.66,226.94 L741.68,226.96 L743.69,226.99 L745.7,227.02 L747.71,227.05 L749.72,227.08 L751.73,227.11 L753.74,227.14 L755.75,227.18 L757.77,227.22 L759.78,227.26 L761.79,227.3 L763.8,227.34 L765.81,227.38 L767.82,227.42 L769.83,227.47 L771.84,227.51 L773.85,227.56 L775.87,227.61 L777.88,227.65 L779.89,227.7 L781.9,227.75 L783.91,227.8 L785.92,227.86 L787.93,227.91 L789.94,227.96 L791.96,228.02 L793.97,228.07 L795.98,228.13 L797.99,228.18 L800,228.24" fill="none" stroke="#f0a0a0" stroke-width="0.8"/>
<path d="M440,-5.8 L470,-5.8 L472.01,-3.22 L474.02,-0.63 L476.04,1.95 L478.05,4.54 L480.06,7.13 L482.07,9.72 L484.09,12.31 L486.1,14.91 L488.11,17.5 L490.12,20.1 L492.13,22.69 L494.15,25.29 L496.16,27.89 L498.17,30.48 L500.18,33.08 L502.2,35.68 L504.21,38.27 L506.22,40.87 L508.23,43.47 L510.24,46.07 L512.26,48.66 L514.27,51.26 L516.28,53.85 L518.29,56.45 L520.3,59.04 L522.32,61.63 L524.33,64.22 L526.34,66.81 L528.35,69.4 L530.37,71.98 L532.38,74.57 L534.39,77.15 L536.4,79.73 L538.41,82.31 L540.43,84.88 L542.44,87.46 L544.45,90.03 L546.46,92.6 L548.48,95.16 L550.49,97.73 L552.5,100.28 L554.51,102.82 L556.52,105.33 L558.54,107.82 L560.55,110.27 L562.56,112.67 L564.57,115.03 L566.59,117.33 L568.6,119.56 L570.61,121.72 L572.62,123.8 L574.63,125.8 L576.65,127.71 L578.66,129.51 L580.67,131.21 L582.68,132.82 L584.7,134.34 L586.71,135.78 L588.72,137.16 L590.73,138.49 L592.74,139.76 L594.76,141.01 L596.77,142.22 L598.78,143.43 L600.79,144.63 L602.8,145.83 L604.82,147.05 L606.83,148.29 L608.84,149.57 L610.85,150.89 L612.87,152.26 L614.88,153.67 L616.89,155.1 L618.9,156.56 L620.91,158.03 L622.93,159.51 L624.94,160.98 L626.95,162.45 L628.96,163.91 L630.98,165.34 L632.99,166.74 L635,168.12 L637.01,169.47 L639.02,170.8 L641.04,172.1 L643.05,173.37 L645.06,174.62 L647.07,175.84 L649.09,177.04 L651.1,178.21 L653.11,179.36 L655.12,180.49 L657.13,181.59 L659.15,182.67 L661.16,183.73 L663.17,184.76 L665.18,185.77 L667.2,186.76 L669.21,187.73 L671.22,188.68 L673.23,189.6 L675.24,190.51 L677.26,191.39 L679.27,192.25 L681.28,193.1 L683.29,193.92 L685.3,194.73 L687.32,195.51 L689.33,196.28 L691.34,197.03 L693.35,197.75 L695.37,198.47 L697.38,199.16 L699.39,199.84 L701.4,200.5 L703.41,201.14 L705.43,201.76 L707.44,202.37 L709.45,202.97 L711.46,203.55 L713.48,204.11 L715.49,204.66 L717.5,205.19 L719.51,205.71 L721.52,206.21 L723.54,206.7 L725.55,207.18 L727.56,207.64 L729.57,208.09 L731.59,208.53 L733.6,208.95 L735.61,209.37 L737.62,209.77 L739.63,210.16 L741.65,210.54 L743.66,210.9 L745.67,211.26 L747.68,211.6 L749.7,211.94 L751.71,212.27 L753.72,212.58 L755.73,212.89 L757.74,213.19 L759.76,213.48 L761.77,213.76 L763.78,214.03 L765.79,214.3 L767.8,214.55 L769.82,214.8 L771.83,215.05 L773.84,215.28 L775.85,215.51 L777.87,215.74 L779.88,215.96 L781.89,216.17 L783.9,216.38 L785.91,216.58 L787.93,216.78 L789.94,216.97 L791.95,217.16 L793.96,217.35 L795.98,217.53 L797.99,217.71 L800,217.89 L800,217.89 L800,219.2 L800,219.2 L797.99,218.97 L795.98,218.74 L793.97,218.52 L791.96,218.29 L789.94,218.06 L787.93,217.83 L785.92,217.59 L783.91,217.36 L781.9,217.13 L779.89,216.9 L777.88,216.66 L775.87,216.43 L773.85,216.19 L771.84,215.95 L769.83,215.71 L767.82,215.47 L765.81,215.23 L763.8,214.99 L761.79,214.75 L759.78,214.5 L757.77,214.25 L755.75,214.01 L753.74,213.76 L751.73,213.51 L749.72,213.26 L747.71,213 L745.7,212.75 L743.69,212.49 L741.68,212.23 L739.66,211.97 L737.65,211.71 L735.64,211.45 L733.63,211.18 L731.62,210.92 L729.61,210.65 L727.6,210.38 L725.59,210.1 L723.58,209.83 L721.56,209.55 L719.55,209.27 L717.54,208.99 L715.53,208.71 L713.52,208.42 L711.51,208.13 L709.5,207.84 L707.49,207.55 L705.47,207.26 L703.46,206.96 L701.45,206.66 L699.44,206.36 L697.43,206.05 L695.42,205.74 L693.41,205.43 L691.4,205.12 L689.39,204.81 L687.37,204.49 L685.36,204.17 L683.35,203.84 L681.34,203.52 L679.33,203.19 L677.32,202.85 L675.31,202.52 L673.3,202.18 L671.28,201.84 L669.27,201.49 L667.26,201.14 L665.25,200.79 L663.24,200.44 L661.23,200.08 L659.22,199.72 L657.21,199.36 L655.2,198.99 L653.18,198.62 L651.17,198.24 L649.16,197.86 L647.15,197.48 L645.14,197.1 L643.13,196.71 L641.12,196.31 L639.11,195.92 L637.09,195.52 L635.08,195.11 L633.07,194.7 L631.06,194.29 L629.05,193.88 L627.04,193.46 L625.03,193.03 L623.02,192.6 L621.01,192.17 L618.99,191.74 L616.98,191.29 L614.97,190.85 L612.96,190.4 L610.95,189.95 L608.94,189.49 L606.93,189.03 L604.92,188.56 L602.91,188.09 L600.89,187.62 L598.88,187.15 L596.87,186.67 L594.86,186.19 L592.85,185.71 L590.84,185.23 L588.83,184.75 L586.82,184.27 L584.8,183.79 L582.79,183.31 L580.78,182.84 L578.77,182.36 L576.76,181.89 L574.75,181.42 L572.74,180.95 L570.73,180.49 L568.72,180.03 L566.7,179.57 L564.69,179.12 L562.68,178.68 L560.67,178.24 L558.66,177.8 L556.65,177.37 L554.64,176.93 L552.63,176.49 L550.61,176.05 L548.6,175.6 L546.59,175.14 L544.58,174.66 L542.57,174.18 L540.56,173.68 L538.55,173.17 L536.54,172.63 L534.53,172.07 L532.51,171.5 L530.5,170.89 L528.49,170.26 L526.48,169.6 L524.47,168.91 L522.46,168.2 L520.45,167.46 L518.44,166.71 L516.42,165.92 L514.41,165.12 L512.4,164.3 L510.39,163.46 L508.38,162.61 L506.37,161.74 L504.36,160.85 L502.35,159.95 L500.34,159.05 L498.32,158.13 L496.31,157.2 L494.3,156.27 L492.29,155.32 L490.28,154.38 L488.27,153.43 L486.26,152.48 L484.25,151.53 L482.23,150.57 L480.22,149.62 L478.21,148.68 L476.2,147.73 L474.19,146.8 L472.18,145.87 L470.17,144.94 L468.16,144.03 L466.15,143.13 L464.13,142.24 L462.12,141.36 L460.11,140.5 L458.1,139.65 L456.09,138.83 L454.08,138.02 L452.07,137.23 L450.06,136.46 L448.04,135.71 L446.03,134.99 L444.02,134.29 L442.01,133.62 L440,132.98 L440,132.98Z" fill="#8ccdf0"/>
<g clip-path="url(#R_blue)"><g clip-path="url(#R_red)"><path d="M300.55,131.35 L433.82,264.62 M307.55,131.35 L440.82,264.62 M314.55,131.35 L447.82,264.62 M321.55,131.35 L454.82,264.62 M328.55,131.35 L461.82,264.62 M335.55,131.35 L468.82,264.62 M342.55,131.35 L475.82,264.62 M349.55,131.35 L482.82,264.62 M356.55,131.35 L489.82,264.62 M363.55,131.35 L496.82,264.62 M370.55,131.35 L503.82,264.62 M377.55,131.35 L510.82,264.62 M384.55,131.35 L517.82,264.62 M391.55,131.35 L524.82,264.62 M398.55,131.35 L531.82,264.62 M405.55,131.35 L538.82,264.62 M412.55,131.35 L545.82,264.62 M419.55,131.35 L552.82,264.62 M426.55,131.35 L559.82,264.62 M433.55,131.35 L566.82,264.62 M440.55,131.35 L573.82,264.62 M447.55,131.35 L580.82,264.62 M454.55,131.35 L587.82,264.62 M461.55,131.35 L594.82,264.62 M468.55,131.35 L601.82,264.62 M475.55,131.35 L608.82,264.62 M482.55,131.35 L615.82,264.62 M489.55,131.35 L622.82,264.62 M496.55,131.35 L629.82,264.62 M503.55,131.35 L636.82,264.62 M510.55,131.35 L643.82,264.62 M517.55,131.35 L650.82,264.62 M524.55,131.35 L657.82,264.62 M531.55,131.35 L664.82,264.62 M538.55,131.35 L671.82,264.62 M545.55,131.35 L678.82,264.62 M552.55,131.35 L685.82,264.62 M559.55,131.35 L692.82,264.62 M566.55,131.35 L699.82,264.62 M573.55,131.35 L706.82,264.62 M580.55,131.35 L713.82,264.62 M587.55,131.35 L720.82,264.62 M594.55,131.35 L727.82,264.62 M601.55,131.35 L734.82,264.62 M608.55,131.35 L741.82,264.62 M615.55,131.35 L748.82,264.62 M622.55,131.35 L755.82,264.62 M629.55,131.35 L762.82,264.62 M636.55,131.35 L769.82,264.62 M643.55,131.35 L776.82,264.62 M650.55,131.35 L783.82,264.62 M657.55,131.35 L790.82,264.62 M664.55,131.35 L797.82,264.62 M671.55,131.35 L804.82,264.62 M678.55,131.35 L811.82,264.62 M685.55,131.35 L818.82,264.62 M692.55,131.35 L825.82,264.62 M699.55,131.35 L832.82,264.62 M706.55,131.35 L839.82,264.62 M713.55,131.35 L846.82,264.62 M720.55,131.35 L853.82,264.62 M727.55,131.35 L860.82,264.62 M734.55,131.35 L867.82,264.62 M741.55,131.35 L874.82,264.62 M748.55,131.35 L881.82,264.62 M755.55,131.35 L888.82,264.62 M762.55,131.35 L895.82,264.62 M769.55,131.35 L902.82,264.62 M776.55,131.35 L909.82,264.62 M783.55,131.35 L916.82,264.62 M790.55,131.35 L923.82,264.62 M797.55,131.35 L930.82,264.62" stroke="#3c5096" stroke-width="1.0" fill="none"/></g></g>
<path d="M470,-5.8 L472.01,-3.22 L474.02,-0.63 L476.04,1.95 L478.05,4.54 L480.06,7.13 L482.07,9.72 L484.09,12.31 L486.1,14.91 L488.11,17.5 L490.12,20.1 L492.13,22.69 L494.15,25.29 L496.16,27.89 L498.17,30.48 L500.18,33.08 L502.2,35.68 L504.21,38.27 L506.22,40.87 L508.23,43.47 L510.24,46.07 L512.26,48.66 L514.27,51.26 L516.28,53.85 L518.29,56.45 L520.3,59.04 L522.32,61.63 L524.33,64.22 L526.34,66.81 L528.35,69.4 L530.37,71.98 L532.38,74.57 L534.39,77.15 L536.4,79.73 L538.41,82.31 L540.43,84.88 L542.44,87.46 L544.45,90.03 L546.46,92.6 L548.48,95.16 L550.49,97.73 L552.5,100.28 L554.51,102.82 L556.52,105.33 L558.54,107.82 L560.55,110.27 L562.56,112.67 L564.57,115.03 L566.59,117.33 L568.6,119.56 L570.61,121.72 L572.62,123.8 L574.63,125.8 L576.65,127.71 L578.66,129.51 L580.67,131.21 L582.68,132.82 L584.7,134.34 L586.71,135.78 L588.72,137.16 L590.73,138.49 L592.74,139.76 L594.76,141.01 L596.77,142.22 L598.78,143.43 L600.79,144.63 L602.8,145.83 L604.82,147.05 L606.83,148.29 L608.84,149.57 L610.85,150.89 L612.87,152.26 L614.88,153.67 L616.89,155.1 L618.9,156.56 L620.91,158.03 L622.93,159.51 L624.94,160.98 L626.95,162.45 L628.96,163.91 L630.98,165.34 L632.99,166.74 L635,168.12 L637.01,169.47 L639.02,170.8 L641.04,172.1 L643.05,173.37 L645.06,174.62 L647.07,175.84 L649.09,177.04 L651.1,178.21 L653.11,179.36 L655.12,180.49 L657.13,181.59 L659.15,182.67 L661.16,183.73 L663.17,184.76 L665.18,185.77 L667.2,186.76 L669.21,187.73 L671.22,188.68 L673.23,189.6 L675.24,190.51 L677.26,191.39 L679.27,192.25 L681.28,193.1 L683.29,193.92 L685.3,194.73 L687.32,195.51 L689.33,196.28 L691.34,197.03 L693.35,197.75 L695.37,198.47 L697.38,199.16 L699.39,199.84 L701.4,200.5 L703.41,201.14 L705.43,201.76 L707.44,202.37 L709.45,202.97 L711.46,203.55 L713.48,204.11 L715.49,204.66 L717.5,205.19 L719.51,205.71 L721.52,206.21 L723.54,206.7 L725.55,207.18 L727.56,207.64 L729.57,208.09 L731.59,208.53 L733.6,208.95 L735.61,209.37 L737.62,209.77 L739.63,210.16 L741.65,210.54 L743.66,210.9 L745.67,211.26 L747.68,211.6 L749.7,211.94 L751.71,212.27 L753.72,212.58 L755.73,212.89 L757.74,213.19 L759.76,213.48 L761.77,213.76 L763.78,214.03 L765.79,214.3 L767.8,214.55 L769.82,214.8 L771.83,215.05 L773.84,215.28 L775.85,215.51 L777.87,215.74 L779.88,215.96 L781.89,216.17 L783.9,216.38 L785.91,216.58 L787.93,216.78 L789.94,216.97 L791.95,217.16 L793.96,217.35 L795.98,217.53 L797.99,217.71 L800,217.89" fill="none" stroke="#5f7f96" stroke-width="0.7"/>
<path d="M440,132.98 L442.01,133.62 L444.02,134.29 L446.03,134.99 L448.04,135.71 L450.06,136.46 L452.07,137.23 L454.08,138.02 L456.09,138.83 L458.1,139.65 L460.11,140.5 L462.12,141.36 L464.13,142.24 L466.15,143.13 L468.16,144.03 L470.17,144.94 L472.18,145.87 L474.19,146.8 L476.2,147.73 L478.21,148.68 L480.22,149.62 L482.23,150.57 L484.25,151.53 L486.26,152.48 L488.27,153.43 L490.28,154.38 L492.29,155.32 L494.3,156.27 L496.31,157.2 L498.32,158.13 L500.34,159.05 L502.35,159.95 L504.36,160.85 L506.37,161.74 L508.38,162.61 L510.39,163.46 L512.4,164.3 L514.41,165.12 L516.42,165.92 L518.44,166.71 L520.45,167.46 L522.46,168.2 L524.47,168.91 L526.48,169.6 L528.49,170.26 L530.5,170.89 L532.51,171.5 L534.53,172.07 L536.54,172.63 L538.55,173.17 L540.56,173.68 L542.57,174.18 L544.58,174.66 L546.59,175.14 L548.6,175.6 L550.61,176.05 L552.63,176.49 L554.64,176.93 L556.65,177.37 L558.66,177.8 L560.67,178.24 L562.68,178.68 L564.69,179.12 L566.7,179.57 L568.72,180.03 L570.73,180.49 L572.74,180.95 L574.75,181.42 L576.76,181.89 L578.77,182.36 L580.78,182.84 L582.79,183.31 L584.8,183.79 L586.82,184.27 L588.83,184.75 L590.84,185.23 L592.85,185.71 L594.86,186.19 L596.87,186.67 L598.88,187.15 L600.89,187.62 L602.91,188.09 L604.92,188.56 L606.93,189.03 L608.94,189.49 L610.95,189.95 L612.96,190.4 L614.97,190.85 L616.98,191.29 L618.99,191.74 L621.01,192.17 L623.02,192.6 L625.03,193.03 L627.04,193.46 L629.05,193.88 L631.06,194.29 L633.07,194.7 L635.08,195.11 L637.09,195.52 L639.11,195.92 L641.12,196.31 L643.13,196.71 L645.14,197.1 L647.15,197.48 L649.16,197.86 L651.17,198.24 L653.18,198.62 L655.2,198.99 L657.21,199.36 L659.22,199.72 L661.23,200.08 L663.24,200.44 L665.25,200.79 L667.26,201.14 L669.27,201.49 L671.28,201.84 L673.3,202.18 L675.31,202.52 L677.32,202.85 L679.33,203.19 L681.34,203.52 L683.35,203.84 L685.36,204.17 L687.37,204.49 L689.39,204.81 L691.4,205.12 L693.41,205.43 L695.42,205.74 L697.43,206.05 L699.44,206.36 L701.45,206.66 L703.46,206.96 L705.47,207.26 L707.49,207.55 L709.5,207.84 L711.51,208.13 L713.52,208.42 L715.53,208.71 L717.54,208.99 L719.55,209.27 L721.56,209.55 L723.58,209.83 L725.59,210.1 L727.6,210.38 L729.61,210.65 L731.62,210.92 L733.63,211.18 L735.64,211.45 L737.65,211.71 L739.66,211.97 L741.68,212.23 L743.69,212.49 L745.7,212.75 L747.71,213 L749.72,213.26 L751.73,213.51 L753.74,213.76 L755.75,214.01 L757.77,214.25 L759.78,214.5 L761.79,214.75 L763.8,214.99 L765.81,215.23 L767.82,215.47 L769.83,215.71 L771.84,215.95 L773.85,216.19 L775.87,216.43 L777.88,216.66 L779.89,216.9 L781.9,217.13 L783.91,217.36 L785.92,217.59 L787.93,217.83 L789.94,218.06 L791.96,218.29 L793.97,218.52 L795.98,218.74 L797.99,218.97 L800,219.2" fill="none" stroke="#5f7f96" stroke-width="0.7"/>
<path d="M440,131.35 L442.01,132.23 L444.02,133.1 L446.03,133.96 L448.04,134.82 L450.06,135.67 L452.07,136.51 L454.08,137.35 L456.09,138.19 L458.1,139.02 L460.11,139.85 L462.12,140.68 L464.13,141.51 L466.15,142.34 L468.16,143.17 L470.17,144 L472.18,144.84 L474.19,145.68 L476.2,146.52 L478.21,147.37 L480.22,148.22 L482.23,149.08 L484.25,149.95 L486.26,150.83 L488.27,151.72 L490.28,152.62 L492.29,153.53 L494.3,154.45 L496.31,155.38 L498.32,156.33 L500.34,157.29 L502.35,158.26 L504.36,159.26 L506.37,160.27 L508.38,161.29 L510.39,162.34 L512.4,163.4 L514.41,164.49 L516.42,165.59 L518.44,166.7 L520.45,167.82 L522.46,168.96 L524.47,170.11 L526.48,171.27 L528.49,172.44 L530.5,173.61 L532.51,174.79 L534.53,175.97 L536.54,177.16 L538.55,178.35 L540.56,179.53 L542.57,180.72 L544.58,181.9 L546.59,183.08 L548.6,184.25 L550.61,185.42 L552.63,186.58 L554.64,187.72 L556.65,188.86 L558.66,189.99 L560.67,191.1 L562.68,192.19 L564.69,193.27 L566.7,194.33 L568.72,195.38 L570.73,196.4 L572.74,197.4 L574.75,198.38 L576.76,199.33 L578.77,200.26 L580.78,201.16 L582.79,202.04 L584.8,202.9 L586.82,203.73 L588.83,204.55 L590.84,205.34 L592.85,206.1 L594.86,206.85 L596.87,207.57 L598.88,208.28 L600.89,208.96 L602.91,209.62 L604.92,210.26 L606.93,210.88 L608.94,211.48 L610.95,212.06 L612.96,212.63 L614.97,213.17 L616.98,213.7 L618.99,214.2 L621.01,214.69 L623.02,215.17 L625.03,215.62 L627.04,216.06 L629.05,216.48 L631.06,216.89 L633.07,217.28 L635.08,217.65 L637.09,218.01 L639.11,218.35 L641.12,218.68 L643.13,219 L645.14,219.3 L647.15,219.58 L649.16,219.86 L651.17,220.12 L653.18,220.36 L655.2,220.6 L657.21,220.82 L659.22,221.03 L661.23,221.23 L663.24,221.41 L665.25,221.59 L667.26,221.76 L669.27,221.91 L671.28,222.06 L673.3,222.19 L675.31,222.32 L677.32,222.43 L679.33,222.54 L681.34,222.64 L683.35,222.73 L685.36,222.81 L687.37,222.89 L689.39,222.96 L691.4,223.02 L693.41,223.07 L695.42,223.12 L697.43,223.16 L699.44,223.2 L701.45,223.23 L703.46,223.26 L705.47,223.28 L707.49,223.29 L709.5,223.3 L711.51,223.31 L713.52,223.32 L715.53,223.32 L717.54,223.32 L719.55,223.31 L721.56,223.3 L723.58,223.29 L725.59,223.28 L727.6,223.27 L729.61,223.26 L731.62,223.24 L733.63,223.23 L735.64,223.21 L737.65,223.2 L739.66,223.18 L741.68,223.17 L743.69,223.16 L745.7,223.15 L747.71,223.14 L749.72,223.13 L751.73,223.12 L753.74,223.12 L755.75,223.12 L757.77,223.12 L759.78,223.13 L761.79,223.14 L763.8,223.15 L765.81,223.17 L767.82,223.19 L769.83,223.22 L771.84,223.26 L773.85,223.3 L775.87,223.34 L777.88,223.39 L779.89,223.45 L781.9,223.52 L783.91,223.59 L785.92,223.67 L787.93,223.76 L789.94,223.85 L791.96,223.96 L793.97,224.07 L795.98,224.19 L797.99,224.32 L800,224.46" fill="none" stroke="#5a62a0" stroke-width="0.8" clip-path="url(#R_blue)"/>
<path d="M440,264.62 L442.01,263.94 L444.02,263.27 L446.03,262.61 L448.04,261.96 L450.06,261.31 L452.07,260.67 L454.08,260.04 L456.09,259.42 L458.1,258.8 L460.11,258.19 L462.12,257.59 L464.13,257 L466.15,256.41 L468.16,255.83 L470.17,255.26 L472.18,254.69 L474.19,254.13 L476.2,253.58 L478.21,253.04 L480.22,252.5 L482.23,251.97 L484.25,251.45 L486.26,250.93 L488.27,250.42 L490.28,249.92 L492.29,249.42 L494.3,248.94 L496.31,248.45 L498.32,247.98 L500.34,247.51 L502.35,247.04 L504.36,246.59 L506.37,246.14 L508.38,245.7 L510.39,245.26 L512.4,244.83 L514.41,244.4 L516.42,243.99 L518.44,243.57 L520.45,243.17 L522.46,242.77 L524.47,242.37 L526.48,241.99 L528.49,241.61 L530.5,241.23 L532.51,240.86 L534.53,240.5 L536.54,240.14 L538.55,239.79 L540.56,239.44 L542.57,239.1 L544.58,238.77 L546.59,238.44 L548.6,238.11 L550.61,237.8 L552.63,237.48 L554.64,237.18 L556.65,236.87 L558.66,236.58 L560.67,236.29 L562.68,236 L564.69,235.72 L566.7,235.45 L568.72,235.18 L570.73,234.91 L572.74,234.65 L574.75,234.4 L576.76,234.15 L578.77,233.91 L580.78,233.67 L582.79,233.43 L584.8,233.2 L586.82,232.98 L588.83,232.76 L590.84,232.54 L592.85,232.33 L594.86,232.13 L596.87,231.93 L598.88,231.73 L600.89,231.54 L602.91,231.35 L604.92,231.17 L606.93,230.99 L608.94,230.81 L610.95,230.64 L612.96,230.48 L614.97,230.32 L616.98,230.16 L618.99,230.01 L621.01,229.86 L623.02,229.71 L625.03,229.57 L627.04,229.44 L629.05,229.3 L631.06,229.17 L633.07,229.05 L635.08,228.93 L637.09,228.81 L639.11,228.7 L641.12,228.59 L643.13,228.48 L645.14,228.38 L647.15,228.28 L649.16,228.19 L651.17,228.09 L653.18,228.01 L655.2,227.92 L657.21,227.84 L659.22,227.76 L661.23,227.69 L663.24,227.62 L665.25,227.55 L667.26,227.48 L669.27,227.42 L671.28,227.36 L673.3,227.31 L675.31,227.25 L677.32,227.21 L679.33,227.16 L681.34,227.12 L683.35,227.07 L685.36,227.04 L687.37,227 L689.39,226.97 L691.4,226.94 L693.41,226.91 L695.42,226.89 L697.43,226.87 L699.44,226.85 L701.45,226.83 L703.46,226.82 L705.47,226.8 L707.49,226.8 L709.5,226.79 L711.51,226.78 L713.52,226.78 L715.53,226.78 L717.54,226.78 L719.55,226.79 L721.56,226.79 L723.58,226.8 L725.59,226.81 L727.6,226.82 L729.61,226.84 L731.62,226.85 L733.63,226.87 L735.64,226.89 L737.65,226.91 L739.66,226.94 L741.68,226.96 L743.69,226.99 L745.7,227.02 L747.71,227.05 L749.72,227.08 L751.73,227.11 L753.74,227.14 L755.75,227.18 L757.77,227.22 L759.78,227.26 L761.79,227.3 L763.8,227.34 L765.81,227.38 L767.82,227.42 L769.83,227.47 L771.84,227.51 L773.85,227.56 L775.87,227.61 L777.88,227.65 L779.89,227.7 L781.9,227.75 L783.91,227.8 L785.92,227.86 L787.93,227.91 L789.94,227.96 L791.96,228.02 L793.97,228.07 L795.98,228.13 L797.99,228.18 L800,228.24" fill="none" stroke="#5a62a0" stroke-width="0.8" clip-path="url(#R_blue)"/>
<path d="M440,36 L442.01,38.25 L444.02,40.47 L446.03,42.68 L448.04,44.87 L450.06,47.04 L452.07,49.2 L454.08,51.34 L456.09,53.46 L458.1,55.57 L460.11,57.66 L462.12,59.73 L464.13,61.79 L466.15,63.82 L468.16,65.85 L470.17,67.85 L472.18,69.84 L474.19,71.81 L476.2,73.77 L478.21,75.71 L480.22,77.63 L482.23,79.54 L484.25,81.43 L486.26,83.31 L488.27,85.17 L490.28,87.01 L492.29,88.84 L494.3,90.65 L496.31,92.44 L498.32,94.22 L500.34,95.99 L502.35,97.74 L504.36,99.47 L506.37,101.19 L508.38,102.89 L510.39,104.58 L512.4,106.25 L514.41,107.9 L516.42,109.55 L518.44,111.17 L520.45,112.78 L522.46,114.38 L524.47,115.96 L526.48,117.53 L528.49,119.08 L530.5,120.62 L532.51,122.14 L534.53,123.65 L536.54,125.14 L538.55,126.62 L540.56,128.08 L542.57,129.53 L544.58,130.97 L546.59,132.39 L548.6,133.79 L550.61,135.19 L552.63,136.56 L554.64,137.93 L556.65,139.28 L558.66,140.62 L560.67,141.94 L562.68,143.25 L564.69,144.54 L566.7,145.82 L568.72,147.09 L570.73,148.35 L572.74,149.59 L574.75,150.82 L576.76,152.03 L578.77,153.23 L580.78,154.42 L582.79,155.59 L584.8,156.75 L586.82,157.9 L588.83,159.04 L590.84,160.16 L592.85,161.27 L594.86,162.37 L596.87,163.45 L598.88,164.52 L600.89,165.58 L602.91,166.63 L604.92,167.66 L606.93,168.68 L608.94,169.69 L610.95,170.69 L612.96,171.67 L614.97,172.64 L616.98,173.6 L618.99,174.55 L621.01,175.48 L623.02,176.41 L625.03,177.32 L627.04,178.22 L629.05,179.11 L631.06,179.98 L633.07,180.85 L635.08,181.7 L637.09,182.54 L639.11,183.37 L641.12,184.19 L643.13,185 L645.14,185.79 L647.15,186.58 L649.16,187.35 L651.17,188.11 L653.18,188.86 L655.2,189.6 L657.21,190.33 L659.22,191.05 L661.23,191.76 L663.24,192.46 L665.25,193.14 L667.26,193.82 L669.27,194.48 L671.28,195.14 L673.3,195.78 L675.31,196.41 L677.32,197.04 L679.33,197.65 L681.34,198.25 L683.35,198.84 L685.36,199.43 L687.37,200 L689.39,200.56 L691.4,201.11 L693.41,201.65 L695.42,202.19 L697.43,202.71 L699.44,203.22 L701.45,203.73 L703.46,204.22 L705.47,204.7 L707.49,205.18 L709.5,205.64 L711.51,206.1 L713.52,206.55 L715.53,206.98 L717.54,207.41 L719.55,207.83 L721.56,208.24 L723.58,208.64 L725.59,209.04 L727.6,209.42 L729.61,209.8 L731.62,210.16 L733.63,210.52 L735.64,210.87 L737.65,211.21 L739.66,211.54 L741.68,211.86 L743.69,212.18 L745.7,212.49 L747.71,212.78 L749.72,213.07 L751.73,213.36 L753.74,213.63 L755.75,213.9 L757.77,214.16 L759.78,214.41 L761.79,214.65 L763.8,214.88 L765.81,215.11 L767.82,215.33 L769.83,215.54 L771.84,215.75 L773.85,215.94 L775.87,216.13 L777.88,216.31 L779.89,216.49 L781.9,216.66 L783.91,216.82 L785.92,216.97 L787.93,217.12 L789.94,217.26 L791.96,217.39 L793.97,217.51 L795.98,217.63 L797.99,217.75 L800,217.85" fill="none" stroke="#3f86df" stroke-width="2"/>
<path d="M440,196.28 L442.01,196.54 L444.02,196.81 L446.03,197.08 L448.04,197.35 L450.06,197.62 L452.07,197.89 L454.08,198.16 L456.09,198.43 L458.1,198.7 L460.11,198.98 L462.12,199.25 L464.13,199.52 L466.15,199.8 L468.16,200.07 L470.17,200.35 L472.18,200.63 L474.19,200.9 L476.2,201.18 L478.21,201.46 L480.22,201.74 L482.23,202.01 L484.25,202.29 L486.26,202.57 L488.27,202.85 L490.28,203.13 L492.29,203.41 L494.3,203.69 L496.31,203.97 L498.32,204.24 L500.34,204.52 L502.35,204.8 L504.36,205.08 L506.37,205.36 L508.38,205.64 L510.39,205.92 L512.4,206.19 L514.41,206.47 L516.42,206.75 L518.44,207.03 L520.45,207.3 L522.46,207.58 L524.47,207.85 L526.48,208.13 L528.49,208.4 L530.5,208.68 L532.51,208.95 L534.53,209.22 L536.54,209.5 L538.55,209.77 L540.56,210.04 L542.57,210.31 L544.58,210.58 L546.59,210.84 L548.6,211.11 L550.61,211.38 L552.63,211.64 L554.64,211.91 L556.65,212.17 L558.66,212.43 L560.67,212.69 L562.68,212.95 L564.69,213.21 L566.7,213.47 L568.72,213.73 L570.73,213.98 L572.74,214.23 L574.75,214.49 L576.76,214.74 L578.77,214.99 L580.78,215.23 L582.79,215.48 L584.8,215.73 L586.82,215.97 L588.83,216.21 L590.84,216.45 L592.85,216.69 L594.86,216.93 L596.87,217.16 L598.88,217.39 L600.89,217.62 L602.91,217.85 L604.92,218.08 L606.93,218.31 L608.94,218.53 L610.95,218.75 L612.96,218.97 L614.97,219.19 L616.98,219.4 L618.99,219.62 L621.01,219.83 L623.02,220.04 L625.03,220.24 L627.04,220.45 L629.05,220.65 L631.06,220.85 L633.07,221.05 L635.08,221.24 L637.09,221.43 L639.11,221.62 L641.12,221.81 L643.13,221.99 L645.14,222.18 L647.15,222.36 L649.16,222.53 L651.17,222.71 L653.18,222.88 L655.2,223.05 L657.21,223.21 L659.22,223.37 L661.23,223.53 L663.24,223.69 L665.25,223.85 L667.26,224 L669.27,224.14 L671.28,224.29 L673.3,224.43 L675.31,224.57 L677.32,224.7 L679.33,224.84 L681.34,224.97 L683.35,225.09 L685.36,225.21 L687.37,225.33 L689.39,225.45 L691.4,225.56 L693.41,225.67 L695.42,225.77 L697.43,225.88 L699.44,225.97 L701.45,226.07 L703.46,226.16 L705.47,226.25 L707.49,226.33 L709.5,226.41 L711.51,226.48 L713.52,226.56 L715.53,226.63 L717.54,226.69 L719.55,226.75 L721.56,226.81 L723.58,226.86 L725.59,226.91 L727.6,226.95 L729.61,226.99 L731.62,227.03 L733.63,227.06 L735.64,227.09 L737.65,227.11 L739.66,227.13 L741.68,227.14 L743.69,227.15 L745.7,227.16 L747.71,227.16 L749.72,227.16 L751.73,227.15 L753.74,227.14 L755.75,227.12 L757.77,227.1 L759.78,227.08 L761.79,227.05 L763.8,227.01 L765.81,226.97 L767.82,226.93 L769.83,226.88 L771.84,226.82 L773.85,226.76 L775.87,226.7 L777.88,226.63 L779.89,226.56 L781.9,226.48 L783.91,226.39 L785.92,226.3 L787.93,226.21 L789.94,226.11 L791.96,226.01 L793.97,225.9 L795.98,225.78 L797.99,225.66 L800,225.53" fill="none" stroke="#dc2626" stroke-width="2.2" stroke-dasharray="3.1 3.5"/>
</g>
<path d="M558.7,268.8 H776.5" stroke="#503a88" stroke-width="1.2" fill="none"/><path d="M562.7,265.8 L558.7,268.8 L562.7,271.8" stroke="#503a88" stroke-width="1.2" fill="none"/><path d="M772.5,265.8 L776.5,268.8 L772.5,271.8" stroke="#503a88" stroke-width="1.2" fill="none"/>
<path d="M460.7,298.2 H683.6" stroke="#ee9660" stroke-width="1.2" fill="none"/><path d="M464.7,295.2 L460.7,298.2 L464.7,301.2" stroke="#ee9660" stroke-width="1.2" fill="none"/><path d="M679.6,295.2 L683.6,298.2 L679.6,301.2" stroke="#ee9660" stroke-width="1.2" fill="none"/>
<text x="615.6" y="261.9" font-size="10.3" fill="#4a3480" textLength="109.7" lengthAdjust="spacingAndGlyphs">LHeC kinematic range</text>
<text x="519.3" y="290.7" font-size="10.3" fill="#eb8c4e" textLength="120.1" lengthAdjust="spacingAndGlyphs">FCC-eh kinematic range</text>
<rect x="670.5" y="29.3" width="38" height="6.2" fill="url(#hatchRed)"/><path d="M670.5,32.4 h38" stroke="#dc2626" stroke-width="1.9" stroke-dasharray="4 2.6"/><rect x="670.5" y="42.2" width="37.8" height="5.4" fill="#8ccdf0"/><rect x="670.5" y="43.9" width="37.8" height="2" fill="#3f86df"/>
<text x="715.7" y="36.2" font-size="9.4" textLength="26.4" lengthAdjust="spacingAndGlyphs" fill="#333333">NNLO</text>
<text x="715.7" y="49" font-size="9.4" textLength="50.7" lengthAdjust="spacingAndGlyphs" fill="#333333">NNLO+NLL</text>
<text x="767.3" y="49" font-size="9.4" font-style="italic" fill="#333333">x</text>
<path d="M452.34,312 v-3 M452.34,20.8 v3 M461.73,312 v-3 M461.73,20.8 v3 M469.4,312 v-3 M469.4,20.8 v3 M475.88,312 v-3 M475.88,20.8 v3 M481.5,312 v-3 M481.5,20.8 v3 M486.46,312 v-3 M486.46,20.8 v3 M490.89,312 v-6 M490.89,20.8 v6 M520.05,312 v-3 M520.05,20.8 v3 M537.11,312 v-3 M537.11,20.8 v3 M549.21,312 v-3 M549.21,20.8 v3 M558.6,312 v-3 M558.6,20.8 v3 M566.27,312 v-3 M566.27,20.8 v3 M572.75,312 v-3 M572.75,20.8 v3 M578.37,312 v-3 M578.37,20.8 v3 M583.33,312 v-3 M583.33,20.8 v3 M587.76,312 v-6 M587.76,20.8 v6 M616.92,312 v-3 M616.92,20.8 v3 M633.98,312 v-3 M633.98,20.8 v3 M646.08,312 v-3 M646.08,20.8 v3 M655.47,312 v-3 M655.47,20.8 v3 M663.14,312 v-3 M663.14,20.8 v3 M669.62,312 v-3 M669.62,20.8 v3 M675.24,312 v-3 M675.24,20.8 v3 M680.2,312 v-3 M680.2,20.8 v3 M684.63,312 v-6 M684.63,20.8 v6 M713.79,312 v-3 M713.79,20.8 v3 M730.85,312 v-3 M730.85,20.8 v3 M742.95,312 v-3 M742.95,20.8 v3 M752.34,312 v-3 M752.34,20.8 v3 M760.01,312 v-3 M760.01,20.8 v3 M766.49,312 v-3 M766.49,20.8 v3 M772.11,312 v-3 M772.11,20.8 v3 M777.07,312 v-3 M777.07,20.8 v3 M781.5,312 v-6 M781.5,20.8 v6" stroke="#1a1a1a" stroke-width="1" fill="none"/>
<path d="M451.9,239.2 h6 M781.5,239.2 h-6 M451.9,166.4 h6 M781.5,166.4 h-6 M451.9,93.6 h6 M781.5,93.6 h-6" stroke="#1a1a1a" stroke-width="1" fill="none"/>
<rect x="451.79999999999995" y="20.6" width="329.70000000000005" height="291.7" fill="none" stroke="#1a1a1a" stroke-width="1.3"/>
<text x="444.9" y="315.8" font-size="11" fill="#333333" text-anchor="end" >&#8722;0.5</text>
<text x="444.9" y="243" font-size="11" fill="#333333" text-anchor="end" >0.0</text>
<text x="444.9" y="170.2" font-size="11" fill="#333333" text-anchor="end" >0.5</text>
<text x="444.9" y="97.4" font-size="11" fill="#333333" text-anchor="end" >1.0</text>
<text x="444.9" y="24.6" font-size="11" fill="#333333" text-anchor="end" >1.5</text>
<text x="479.19" y="327.2" font-size="11" fill="#333333">10</text><text x="491.79" y="323.4" font-size="8.5" fill="#333333">&#8722;6</text>
<text x="576.06" y="327.2" font-size="11" fill="#333333">10</text><text x="588.66" y="323.4" font-size="8.5" fill="#333333">&#8722;5</text>
<text x="672.93" y="327.2" font-size="11" fill="#333333">10</text><text x="685.53" y="323.4" font-size="8.5" fill="#333333">&#8722;4</text>
<text x="769.8" y="327.2" font-size="11" fill="#333333">10</text><text x="782.4" y="323.4" font-size="8.5" fill="#333333">&#8722;3</text>
<text x="613.8" y="345.6" font-size="11" fill="#333333" text-anchor="start" >x</text>
<g transform="translate(407,172) rotate(-90)"><text x="0" y="0" font-size="10.5" font-style="italic" fill="#333333">F</text><text x="7.8" y="-4.9" font-size="7" font-style="italic" fill="#333333">p</text><text x="6.3" y="3.3" font-size="7" font-style="italic" fill="#333333">L</text></g>
<text x="533.6" y="11.9" font-size="12" textLength="81.6" lengthAdjust="spacingAndGlyphs" fill="#333333">NNPDF3.1sx,</text><text x="620.6" y="11.9" font-size="12" font-style="italic" fill="#333333">Q</text><text x="631.8" y="7.6" font-size="8.5" fill="#333333">2</text><path d="M641.8,7.6 h9.8 M641.8,10.4 h9.8" stroke="#333333" stroke-width="0.9"/><text x="656.5" y="12.1" font-size="12" fill="#333333">5</text><text x="669" y="11.9" font-size="12" textLength="23" lengthAdjust="spacingAndGlyphs" fill="#333333">GeV</text><text x="693.5" y="7.6" font-size="8.5" fill="#333333">2</text>
</svg></body></html>
